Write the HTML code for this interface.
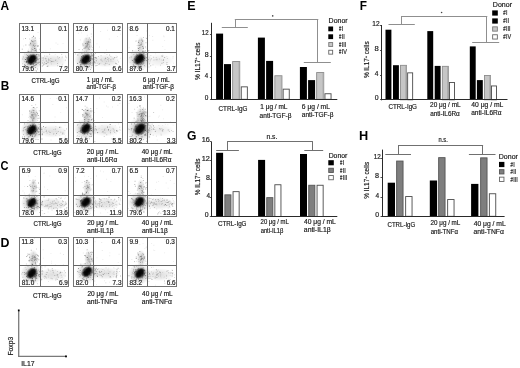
<!DOCTYPE html>
<html><head><meta charset="utf-8"><style>
html,body{margin:0;padding:0;background:#fff;width:520px;height:368px;overflow:hidden}
svg{display:block;font-family:"Liberation Sans",sans-serif;will-change:transform}
text{stroke:#1a1a1a;stroke-width:.18px}
text[font-weight=bold]{stroke:none}
</style></head><body>
<svg width="520" height="368" viewBox="0 0 520 368">
<defs><radialGradient id="core"><stop offset="0" stop-color="#000" stop-opacity="0.95"/><stop offset="0.45" stop-color="#000" stop-opacity="0.85"/><stop offset="0.8" stop-color="#000" stop-opacity="0.3"/><stop offset="1" stop-color="#000" stop-opacity="0"/></radialGradient><radialGradient id="halo"><stop offset="0" stop-color="#000" stop-opacity="0.4"/><stop offset="0.55" stop-color="#000" stop-opacity="0.15"/><stop offset="1" stop-color="#000" stop-opacity="0"/></radialGradient><radialGradient id="trail"><stop offset="0" stop-color="#000" stop-opacity="0.26"/><stop offset="0.6" stop-color="#000" stop-opacity="0.12"/><stop offset="1" stop-color="#000" stop-opacity="0"/></radialGradient><radialGradient id="lr"><stop offset="0" stop-color="#000" stop-opacity="0.13"/><stop offset="0.6" stop-color="#000" stop-opacity="0.07"/><stop offset="1" stop-color="#000" stop-opacity="0"/></radialGradient></defs>
<rect width="520" height="368" fill="#fff"/>
<text transform="translate(0.60,9.50) scale(0.966,1)" font-size="12.36" fill="#000" font-weight="bold">A</text>
<text transform="translate(0.70,89.60) scale(0.955,1)" font-size="12.36" fill="#000" font-weight="bold">B</text>
<text transform="translate(0.51,169.60) scale(0.895,1)" font-size="12.36" fill="#000" font-weight="bold">C</text>
<text transform="translate(0.46,247.20) scale(1.004,1)" font-size="12.36" fill="#000" font-weight="bold">D</text>
<text transform="translate(187.16,9.60) scale(1.011,1)" font-size="12.36" fill="#000" font-weight="bold">E</text>
<text transform="translate(359.80,9.60) scale(0.956,1)" font-size="12.36" fill="#000" font-weight="bold">F</text>
<text transform="translate(186.91,139.70) scale(0.983,1)" font-size="12.36" fill="#000" font-weight="bold">G</text>
<text transform="translate(358.94,139.70) scale(1.033,1)" font-size="12.36" fill="#000" font-weight="bold">H</text>
<ellipse cx="33.4" cy="44.9" rx="4.7" ry="9" fill="url(#trail)" opacity="0.85"/>
<ellipse cx="52.1" cy="60.9" rx="15" ry="6.5" fill="url(#lr)" opacity="1.00"/>
<ellipse cx="31.9" cy="59.9" rx="11.5" ry="10.5" fill="url(#halo)"/>
<g transform="rotate(-40 31.9 59.4)">
<ellipse cx="31.9" cy="59.4" rx="7.0" ry="5.6" fill="url(#core)"/>
<ellipse cx="34.1" cy="58.8" rx="3.6" ry="3.2" fill="url(#core)" opacity="0.8"/>
<ellipse cx="29.5" cy="60.0" rx="3.6" ry="3.2" fill="url(#core)" opacity="0.7"/>
</g>
<path d="M25.8 61.6h.9v.9h-.9zM45.6 63.3h.9v.9h-.9zM26.6 61.0h.9v.9h-.9zM48.4 59.7h.9v.9h-.9zM31.4 61.6h.9v.9h-.9zM35.7 62.1h.9v.9h-.9zM33.3 60.9h.9v.9h-.9zM32.8 63.4h.9v.9h-.9zM33.3 56.2h.9v.9h-.9zM33.1 64.4h.9v.9h-.9zM30.5 58.3h.9v.9h-.9zM32.8 63.4h.9v.9h-.9zM34.9 66.9h.9v.9h-.9zM35.9 70.5h.9v.9h-.9zM30.8 56.5h.9v.9h-.9zM32.8 60.1h.9v.9h-.9zM28.1 55.9h.9v.9h-.9zM37.5 62.5h.9v.9h-.9zM27.6 50.8h.9v.9h-.9zM24.2 63.9h.9v.9h-.9zM21.8 48.7h.9v.9h-.9zM31.2 55.4h.9v.9h-.9zM27.2 57.5h.9v.9h-.9zM35.7 50.3h.9v.9h-.9zM35.7 64.0h.9v.9h-.9zM36.5 54.0h.9v.9h-.9zM33.0 60.4h.9v.9h-.9zM26.9 55.0h.9v.9h-.9zM25.1 59.1h.9v.9h-.9zM25.0 65.0h.9v.9h-.9zM41.8 65.5h.9v.9h-.9zM38.4 54.3h.9v.9h-.9zM31.2 56.8h.9v.9h-.9zM33.0 56.0h.9v.9h-.9zM26.0 62.0h.9v.9h-.9zM30.7 60.0h.9v.9h-.9zM35.5 64.4h.9v.9h-.9zM36.0 54.0h.9v.9h-.9zM30.0 64.1h.9v.9h-.9zM34.7 58.1h.9v.9h-.9zM31.0 59.2h.9v.9h-.9zM26.9 59.4h.9v.9h-.9zM34.2 58.8h.9v.9h-.9zM30.2 58.4h.9v.9h-.9zM31.2 40.2h.9v.9h-.9zM33.1 35.8h.9v.9h-.9zM32.4 48.9h.9v.9h-.9zM34.2 48.0h.9v.9h-.9zM37.7 45.5h.9v.9h-.9zM32.9 44.8h.9v.9h-.9zM34.8 37.5h.9v.9h-.9zM28.5 50.9h.9v.9h-.9zM30.2 43.1h.9v.9h-.9z" fill="#000" fill-opacity="0.4"/>
<path d="M26.1 61.1h.9v.9h-.9zM34.3 65.0h.9v.9h-.9zM39.6 64.4h.9v.9h-.9zM24.8 59.1h.9v.9h-.9zM34.6 69.7h.9v.9h-.9zM34.7 65.2h.9v.9h-.9zM28.0 57.3h.9v.9h-.9zM37.5 58.6h.9v.9h-.9zM22.8 56.6h.9v.9h-.9zM35.8 60.3h.9v.9h-.9zM42.8 51.7h.9v.9h-.9zM38.5 55.5h.9v.9h-.9zM30.0 54.8h.9v.9h-.9zM37.2 68.6h.9v.9h-.9zM30.2 57.3h.9v.9h-.9zM31.4 62.7h.9v.9h-.9zM39.4 48.8h.9v.9h-.9zM39.5 61.8h.9v.9h-.9zM38.6 61.8h.9v.9h-.9zM31.3 64.1h.9v.9h-.9zM35.7 63.6h.9v.9h-.9zM36.0 57.5h.9v.9h-.9zM30.3 51.5h.9v.9h-.9zM45.6 58.4h.9v.9h-.9zM34.9 61.6h.9v.9h-.9zM29.9 67.1h.9v.9h-.9zM22.4 58.6h.9v.9h-.9zM37.9 58.8h.9v.9h-.9zM33.8 65.3h.9v.9h-.9zM26.5 57.8h.9v.9h-.9zM29.3 60.3h.9v.9h-.9zM36.2 50.8h.9v.9h-.9zM30.6 62.6h.9v.9h-.9zM31.3 48.5h.9v.9h-.9zM34.4 47.8h.9v.9h-.9zM34.8 40.3h.9v.9h-.9zM35.4 48.5h.9v.9h-.9zM35.3 45.3h.9v.9h-.9zM28.7 44.6h.9v.9h-.9zM34.0 45.8h.9v.9h-.9zM30.4 44.4h.9v.9h-.9zM34.7 49.9h.9v.9h-.9zM31.4 41.2h.9v.9h-.9zM25.4 44.5h.9v.9h-.9zM33.2 36.2h.9v.9h-.9zM31.8 36.9h.9v.9h-.9zM30.9 50.5h.9v.9h-.9zM32.1 41.0h.9v.9h-.9zM37.4 44.9h.9v.9h-.9zM37.2 45.9h.9v.9h-.9zM25.1 38.1h.9v.9h-.9zM42.2 62.6h.9v.9h-.9zM51.0 60.9h.9v.9h-.9zM60.1 70.4h.9v.9h-.9zM43.0 63.7h.9v.9h-.9zM64.9 59.7h.9v.9h-.9zM51.8 61.2h.9v.9h-.9zM47.2 66.0h.9v.9h-.9zM45.9 60.5h.9v.9h-.9zM49.2 53.8h.9v.9h-.9z" fill="#000" fill-opacity="0.3"/>
<path d="M32.5 57.9h.9v.9h-.9zM28.0 54.7h.9v.9h-.9zM29.0 55.6h.9v.9h-.9zM30.8 56.0h.9v.9h-.9zM24.1 65.1h.9v.9h-.9zM25.9 54.1h.9v.9h-.9zM32.0 57.6h.9v.9h-.9zM30.4 58.1h.9v.9h-.9zM37.5 63.2h.9v.9h-.9zM34.0 57.7h.9v.9h-.9zM39.6 55.3h.9v.9h-.9zM44.3 62.7h.9v.9h-.9zM28.5 57.7h.9v.9h-.9zM31.6 58.2h.9v.9h-.9zM29.8 70.0h.9v.9h-.9zM34.8 61.0h.9v.9h-.9zM29.5 58.8h.9v.9h-.9zM34.9 50.1h.9v.9h-.9zM25.6 57.1h.9v.9h-.9zM27.3 56.8h.9v.9h-.9zM29.5 66.5h.9v.9h-.9zM22.1 63.4h.9v.9h-.9zM27.0 63.9h.9v.9h-.9zM31.4 63.1h.9v.9h-.9zM27.8 56.1h.9v.9h-.9zM39.2 58.1h.9v.9h-.9zM24.1 61.2h.9v.9h-.9zM24.8 61.4h.9v.9h-.9zM40.2 63.1h.9v.9h-.9zM37.6 62.2h.9v.9h-.9zM42.8 57.1h.9v.9h-.9zM35.2 60.3h.9v.9h-.9zM30.2 56.2h.9v.9h-.9zM35.8 49.1h.9v.9h-.9zM34.5 50.7h.9v.9h-.9zM29.2 38.5h.9v.9h-.9zM34.5 43.2h.9v.9h-.9zM39.8 49.6h.9v.9h-.9zM33.6 40.5h.9v.9h-.9zM30.3 42.3h.9v.9h-.9zM61.7 64.6h.9v.9h-.9zM45.2 58.3h.9v.9h-.9zM65.1 56.6h.9v.9h-.9zM57.7 57.7h.9v.9h-.9zM47.3 62.4h.9v.9h-.9zM47.3 61.7h.9v.9h-.9zM61.8 56.5h.9v.9h-.9zM42.4 57.7h.9v.9h-.9zM44.3 55.5h.9v.9h-.9zM47.8 62.2h.9v.9h-.9zM65.3 56.2h.9v.9h-.9zM57.0 65.3h.9v.9h-.9zM48.0 58.6h.9v.9h-.9zM57.2 56.3h.9v.9h-.9zM42.6 59.9h.9v.9h-.9zM43.7 64.1h.9v.9h-.9zM42.9 64.9h.9v.9h-.9zM57.1 63.1h.9v.9h-.9zM53.3 61.2h.9v.9h-.9zM44.1 62.2h.9v.9h-.9zM46.5 55.8h.9v.9h-.9zM47.7 61.6h.9v.9h-.9zM66.2 57.3h.9v.9h-.9zM55.0 60.2h.9v.9h-.9zM55.4 59.4h.9v.9h-.9zM46.5 66.2h.9v.9h-.9zM43.2 58.5h.9v.9h-.9zM59.1 57.1h.9v.9h-.9zM64.4 67.6h.9v.9h-.9zM47.4 65.2h.9v.9h-.9zM50.4 58.1h.9v.9h-.9zM46.1 63.1h.9v.9h-.9zM61.3 54.0h.9v.9h-.9z" fill="#000" fill-opacity="0.2"/>
<path d="M38.0 60.4h.9v.9h-.9zM33.3 63.1h.9v.9h-.9zM41.3 57.6h.9v.9h-.9zM36.9 59.3h.9v.9h-.9zM34.9 66.9h.9v.9h-.9zM29.9 63.3h.9v.9h-.9zM27.7 57.0h.9v.9h-.9zM29.5 54.2h.9v.9h-.9zM28.0 48.7h.9v.9h-.9zM26.0 56.8h.9v.9h-.9zM39.1 63.7h.9v.9h-.9zM35.3 58.2h.9v.9h-.9zM28.7 67.5h.9v.9h-.9zM35.5 63.7h.9v.9h-.9zM33.7 56.9h.9v.9h-.9zM28.8 60.3h.9v.9h-.9zM34.8 56.5h.9v.9h-.9zM27.4 66.9h.9v.9h-.9zM33.1 41.1h.9v.9h-.9zM39.6 38.0h.9v.9h-.9zM32.7 41.9h.9v.9h-.9zM29.8 44.3h.9v.9h-.9zM39.8 44.2h.9v.9h-.9zM31.9 46.7h.9v.9h-.9zM29.7 49.4h.9v.9h-.9zM31.7 49.6h.9v.9h-.9zM33.3 50.0h.9v.9h-.9zM34.3 49.5h.9v.9h-.9zM56.6 60.8h.9v.9h-.9zM50.4 62.4h.9v.9h-.9zM48.6 59.3h.9v.9h-.9zM44.0 57.7h.9v.9h-.9zM63.4 70.2h.9v.9h-.9zM62.4 63.5h.9v.9h-.9zM43.6 61.4h.9v.9h-.9zM58.5 58.6h.9v.9h-.9zM48.3 65.7h.9v.9h-.9zM50.2 59.9h.9v.9h-.9zM61.5 57.5h.9v.9h-.9zM28.5 59.2h.9v.9h-.9zM33.3 25.4h.9v.9h-.9zM45.4 50.4h.9v.9h-.9zM50.4 61.3h.9v.9h-.9zM45.6 60.6h.9v.9h-.9zM24.1 58.2h.9v.9h-.9zM24.2 53.5h.9v.9h-.9zM54.8 54.2h.9v.9h-.9zM30.5 59.5h.9v.9h-.9zM55.6 42.5h.9v.9h-.9zM65.0 55.3h.9v.9h-.9zM45.1 57.5h.9v.9h-.9zM62.6 43.2h.9v.9h-.9zM51.1 63.6h.9v.9h-.9zM58.8 65.2h.9v.9h-.9zM49.9 48.4h.9v.9h-.9zM57.4 43.8h.9v.9h-.9zM27.1 58.4h.9v.9h-.9zM37.6 32.1h.9v.9h-.9zM39.9 37.8h.9v.9h-.9zM23.0 38.6h.9v.9h-.9zM50.2 60.0h.9v.9h-.9zM23.2 45.5h.9v.9h-.9zM62.3 26.1h.9v.9h-.9zM28.8 34.4h.9v.9h-.9z" fill="#000" fill-opacity="0.1"/>
<rect x="19.50" y="23.50" width="49.00" height="49.00" fill="none" stroke="#747474" stroke-width="1"/>
<line x1="40.50" y1="23.40" x2="40.50" y2="72.30" stroke="#666" stroke-width="1"/>
<line x1="19.30" y1="52.50" x2="68.50" y2="52.50" stroke="#666" stroke-width="1"/>
<text transform="translate(21.52,30.90) scale(0.96,1)" font-size="6.69" fill="#1a1a1a">13.1</text>
<text transform="translate(58.18,30.90) scale(0.96,1)" font-size="6.69" fill="#1a1a1a">0.1</text>
<text transform="translate(21.68,71.45) scale(0.96,1)" font-size="6.69" fill="#1a1a1a">79.6</text>
<text transform="translate(58.99,71.45) scale(0.96,1)" font-size="6.69" fill="#1a1a1a">7.2</text>
<text transform="translate(31.49,82.50) scale(0.918,1)" font-size="6.69" fill="#1a1a1a">CTRL-IgG</text>
<ellipse cx="87.3" cy="44.9" rx="5.2" ry="9" fill="url(#trail)" opacity="0.95"/>
<ellipse cx="105.5" cy="60.9" rx="15" ry="6.5" fill="url(#lr)" opacity="1.00"/>
<ellipse cx="85.8" cy="59.9" rx="11.5" ry="10.5" fill="url(#halo)"/>
<g transform="rotate(-40 85.8 59.4)">
<ellipse cx="85.8" cy="59.4" rx="7.0" ry="5.6" fill="url(#core)"/>
<ellipse cx="88.0" cy="58.8" rx="3.6" ry="3.2" fill="url(#core)" opacity="0.8"/>
<ellipse cx="83.4" cy="60.0" rx="3.6" ry="3.2" fill="url(#core)" opacity="0.7"/>
</g>
<path d="M83.4 58.6h.9v.9h-.9zM79.2 61.4h.9v.9h-.9zM81.5 62.1h.9v.9h-.9zM80.6 67.6h.9v.9h-.9zM86.6 58.5h.9v.9h-.9zM79.2 62.1h.9v.9h-.9zM84.0 57.2h.9v.9h-.9zM91.8 64.7h.9v.9h-.9zM93.7 59.2h.9v.9h-.9zM87.6 52.8h.9v.9h-.9zM87.4 59.1h.9v.9h-.9zM88.9 59.5h.9v.9h-.9zM90.5 58.7h.9v.9h-.9zM90.1 58.1h.9v.9h-.9zM81.4 53.1h.9v.9h-.9zM90.4 58.2h.9v.9h-.9zM84.6 61.2h.9v.9h-.9zM87.9 69.2h.9v.9h-.9zM85.3 61.9h.9v.9h-.9zM81.3 59.2h.9v.9h-.9zM80.0 64.0h.9v.9h-.9zM86.3 58.6h.9v.9h-.9zM83.9 64.7h.9v.9h-.9zM92.4 54.8h.9v.9h-.9zM93.9 54.4h.9v.9h-.9zM86.4 66.2h.9v.9h-.9zM83.1 56.3h.9v.9h-.9zM80.9 61.5h.9v.9h-.9zM91.1 55.4h.9v.9h-.9zM83.3 55.7h.9v.9h-.9zM80.0 64.7h.9v.9h-.9zM75.2 53.6h.9v.9h-.9zM84.7 54.8h.9v.9h-.9zM88.3 60.2h.9v.9h-.9zM84.3 52.6h.9v.9h-.9zM82.9 60.0h.9v.9h-.9zM91.3 65.1h.9v.9h-.9zM96.7 62.8h.9v.9h-.9zM95.4 65.7h.9v.9h-.9zM91.6 58.1h.9v.9h-.9zM86.5 57.4h.9v.9h-.9zM81.1 64.5h.9v.9h-.9zM80.2 63.6h.9v.9h-.9zM82.4 45.4h.9v.9h-.9zM86.0 50.7h.9v.9h-.9zM85.8 45.1h.9v.9h-.9zM82.4 49.7h.9v.9h-.9zM87.6 47.7h.9v.9h-.9zM87.2 44.9h.9v.9h-.9zM86.5 47.0h.9v.9h-.9zM89.3 45.6h.9v.9h-.9zM82.8 44.8h.9v.9h-.9zM90.8 33.6h.9v.9h-.9zM88.0 43.9h.9v.9h-.9zM82.0 49.1h.9v.9h-.9zM85.0 45.9h.9v.9h-.9zM89.8 42.1h.9v.9h-.9zM86.8 46.1h.9v.9h-.9zM90.2 40.6h.9v.9h-.9zM89.0 46.5h.9v.9h-.9zM89.3 51.9h.9v.9h-.9zM91.0 45.7h.9v.9h-.9zM91.6 49.6h.9v.9h-.9zM87.7 49.1h.9v.9h-.9zM91.8 46.9h.9v.9h-.9zM88.8 43.7h.9v.9h-.9zM84.5 47.3h.9v.9h-.9zM95.1 62.4h.9v.9h-.9zM118.0 61.5h.9v.9h-.9zM100.5 59.4h.9v.9h-.9zM98.6 64.0h.9v.9h-.9zM96.9 64.9h.9v.9h-.9zM105.3 63.1h.9v.9h-.9zM108.7 64.2h.9v.9h-.9zM107.2 57.0h.9v.9h-.9zM106.5 53.9h.9v.9h-.9zM114.2 57.0h.9v.9h-.9zM108.4 58.1h.9v.9h-.9zM100.6 55.3h.9v.9h-.9zM110.5 60.6h.9v.9h-.9zM115.8 63.5h.9v.9h-.9zM110.4 55.9h.9v.9h-.9zM101.8 60.7h.9v.9h-.9zM108.2 60.6h.9v.9h-.9zM99.1 63.0h.9v.9h-.9zM104.5 64.6h.9v.9h-.9zM100.9 59.7h.9v.9h-.9zM115.7 57.1h.9v.9h-.9zM115.0 62.8h.9v.9h-.9zM97.9 56.1h.9v.9h-.9z" fill="#000" fill-opacity="0.2"/>
<path d="M89.5 60.1h.9v.9h-.9zM78.6 48.9h.9v.9h-.9zM87.4 61.3h.9v.9h-.9zM89.5 63.7h.9v.9h-.9zM81.4 63.5h.9v.9h-.9zM87.8 64.2h.9v.9h-.9zM84.7 61.4h.9v.9h-.9zM85.2 59.1h.9v.9h-.9zM86.0 60.9h.9v.9h-.9zM82.6 58.8h.9v.9h-.9zM83.9 65.6h.9v.9h-.9zM82.2 57.4h.9v.9h-.9zM83.4 60.1h.9v.9h-.9zM86.4 66.5h.9v.9h-.9zM90.1 56.3h.9v.9h-.9zM88.4 54.4h.9v.9h-.9zM87.7 66.6h.9v.9h-.9zM89.9 56.4h.9v.9h-.9zM86.3 63.0h.9v.9h-.9zM90.8 67.4h.9v.9h-.9zM93.2 61.3h.9v.9h-.9zM89.1 61.0h.9v.9h-.9zM81.4 56.6h.9v.9h-.9zM92.8 64.8h.9v.9h-.9zM85.2 58.5h.9v.9h-.9zM87.9 60.0h.9v.9h-.9zM87.0 52.0h.9v.9h-.9zM93.4 62.4h.9v.9h-.9zM93.5 57.3h.9v.9h-.9zM86.0 46.2h.9v.9h-.9zM85.7 38.4h.9v.9h-.9zM87.7 41.3h.9v.9h-.9zM90.0 39.2h.9v.9h-.9zM88.9 49.1h.9v.9h-.9zM87.9 41.0h.9v.9h-.9zM89.2 41.5h.9v.9h-.9zM88.9 37.6h.9v.9h-.9zM86.5 41.5h.9v.9h-.9zM85.3 47.6h.9v.9h-.9zM82.3 43.5h.9v.9h-.9zM88.5 39.5h.9v.9h-.9zM88.1 41.0h.9v.9h-.9zM88.2 47.7h.9v.9h-.9zM87.8 42.3h.9v.9h-.9zM86.9 44.4h.9v.9h-.9zM119.0 65.6h.9v.9h-.9zM109.2 54.6h.9v.9h-.9zM115.7 62.9h.9v.9h-.9zM107.5 59.2h.9v.9h-.9zM112.8 58.6h.9v.9h-.9zM116.7 56.4h.9v.9h-.9zM95.9 60.3h.9v.9h-.9zM113.9 57.4h.9v.9h-.9zM110.4 58.9h.9v.9h-.9zM94.9 53.2h.9v.9h-.9zM105.2 58.0h.9v.9h-.9z" fill="#000" fill-opacity="0.3"/>
<path d="M82.1 60.2h.9v.9h-.9zM81.1 56.2h.9v.9h-.9zM82.7 55.5h.9v.9h-.9zM92.8 63.8h.9v.9h-.9zM77.1 63.1h.9v.9h-.9zM89.1 65.8h.9v.9h-.9zM94.1 61.6h.9v.9h-.9zM83.6 48.2h.9v.9h-.9zM82.2 59.3h.9v.9h-.9zM82.5 59.4h.9v.9h-.9zM90.0 61.9h.9v.9h-.9zM90.8 53.3h.9v.9h-.9zM86.3 55.9h.9v.9h-.9zM83.9 51.8h.9v.9h-.9zM85.3 57.8h.9v.9h-.9zM85.8 65.4h.9v.9h-.9zM85.3 61.5h.9v.9h-.9zM95.9 57.6h.9v.9h-.9zM79.6 61.6h.9v.9h-.9zM82.1 60.2h.9v.9h-.9zM91.6 62.7h.9v.9h-.9zM92.0 58.7h.9v.9h-.9zM82.5 54.9h.9v.9h-.9zM80.4 60.0h.9v.9h-.9zM77.4 54.5h.9v.9h-.9zM83.3 58.4h.9v.9h-.9zM90.1 60.1h.9v.9h-.9zM87.7 66.6h.9v.9h-.9zM90.1 59.8h.9v.9h-.9zM90.0 68.9h.9v.9h-.9zM88.6 61.0h.9v.9h-.9zM86.2 58.0h.9v.9h-.9zM85.0 57.0h.9v.9h-.9zM94.8 57.1h.9v.9h-.9zM79.9 64.6h.9v.9h-.9zM85.5 59.1h.9v.9h-.9zM89.5 63.1h.9v.9h-.9zM89.8 63.7h.9v.9h-.9zM95.6 64.9h.9v.9h-.9zM91.6 55.6h.9v.9h-.9zM91.5 54.5h.9v.9h-.9zM85.2 57.7h.9v.9h-.9zM85.2 43.0h.9v.9h-.9zM87.0 43.3h.9v.9h-.9z" fill="#000" fill-opacity="0.4"/>
<path d="M85.4 58.0h.9v.9h-.9zM85.6 64.5h.9v.9h-.9zM82.7 60.8h.9v.9h-.9zM83.0 57.8h.9v.9h-.9zM77.4 62.5h.9v.9h-.9zM92.3 62.2h.9v.9h-.9zM78.6 52.9h.9v.9h-.9zM85.3 56.6h.9v.9h-.9zM84.8 63.2h.9v.9h-.9zM81.0 58.4h.9v.9h-.9zM79.3 66.5h.9v.9h-.9zM90.9 48.9h.9v.9h-.9zM85.7 63.3h.9v.9h-.9zM96.7 58.8h.9v.9h-.9zM90.5 39.8h.9v.9h-.9zM84.8 47.1h.9v.9h-.9zM90.0 46.7h.9v.9h-.9zM88.4 47.7h.9v.9h-.9zM86.3 43.3h.9v.9h-.9zM88.0 42.3h.9v.9h-.9zM85.8 42.9h.9v.9h-.9zM109.0 63.8h.9v.9h-.9zM104.5 59.3h.9v.9h-.9zM104.3 58.5h.9v.9h-.9zM106.7 63.0h.9v.9h-.9zM95.1 57.8h.9v.9h-.9zM104.9 62.5h.9v.9h-.9zM101.0 58.4h.9v.9h-.9zM103.4 63.9h.9v.9h-.9zM111.6 57.6h.9v.9h-.9zM105.1 56.9h.9v.9h-.9zM95.5 58.0h.9v.9h-.9zM98.3 63.5h.9v.9h-.9zM100.3 59.3h.9v.9h-.9zM117.2 59.8h.9v.9h-.9zM115.6 55.4h.9v.9h-.9zM97.7 61.6h.9v.9h-.9zM112.5 60.9h.9v.9h-.9zM106.1 61.0h.9v.9h-.9zM100.4 62.8h.9v.9h-.9zM119.8 57.8h.9v.9h-.9zM107.0 29.8h.9v.9h-.9zM87.4 58.0h.9v.9h-.9zM79.8 39.5h.9v.9h-.9zM99.1 46.6h.9v.9h-.9zM88.5 61.1h.9v.9h-.9zM87.3 42.4h.9v.9h-.9zM109.4 69.4h.9v.9h-.9zM106.1 49.5h.9v.9h-.9zM81.0 32.4h.9v.9h-.9zM117.1 35.9h.9v.9h-.9zM79.8 39.3h.9v.9h-.9zM100.2 31.0h.9v.9h-.9zM86.8 34.8h.9v.9h-.9zM91.1 36.3h.9v.9h-.9zM77.2 65.4h.9v.9h-.9zM77.9 32.8h.9v.9h-.9zM120.0 33.7h.9v.9h-.9zM96.5 43.4h.9v.9h-.9zM92.4 27.0h.9v.9h-.9zM104.4 53.0h.9v.9h-.9zM117.3 64.1h.9v.9h-.9zM94.6 62.7h.9v.9h-.9zM82.4 25.6h.9v.9h-.9zM79.7 27.8h.9v.9h-.9zM108.8 38.6h.9v.9h-.9z" fill="#000" fill-opacity="0.1"/>
<rect x="73.50" y="23.50" width="49.00" height="49.00" fill="none" stroke="#747474" stroke-width="1"/>
<line x1="93.50" y1="23.40" x2="93.50" y2="72.30" stroke="#666" stroke-width="1"/>
<line x1="73.30" y1="52.50" x2="122.10" y2="52.50" stroke="#666" stroke-width="1"/>
<text transform="translate(75.52,30.90) scale(0.96,1)" font-size="6.69" fill="#1a1a1a">12.6</text>
<text transform="translate(111.79,30.90) scale(0.96,1)" font-size="6.69" fill="#1a1a1a">0.2</text>
<text transform="translate(75.73,71.45) scale(0.96,1)" font-size="6.69" fill="#1a1a1a">80.7</text>
<text transform="translate(112.54,71.45) scale(0.96,1)" font-size="6.69" fill="#1a1a1a">6.6</text>
<text transform="translate(86.72,81.70) scale(0.963,1)" font-size="6.69" fill="#1a1a1a">1 μg / mL</text>
<text transform="translate(86.54,89.40) scale(0.909,1)" font-size="6.69" fill="#1a1a1a">anti-TGF-β</text>
<ellipse cx="141.0" cy="44.9" rx="4.2" ry="9" fill="url(#trail)" opacity="0.76"/>
<ellipse cx="159.4" cy="60.5" rx="15" ry="6.5" fill="url(#lr)" opacity="0.60"/>
<ellipse cx="139.5" cy="59.5" rx="12.1" ry="11.0" fill="url(#halo)"/>
<g transform="rotate(-40 139.5 59.0)">
<ellipse cx="139.5" cy="59.0" rx="7.4" ry="5.9" fill="url(#core)"/>
<ellipse cx="141.8" cy="58.4" rx="3.8" ry="3.4" fill="url(#core)" opacity="0.8"/>
<ellipse cx="137.0" cy="59.6" rx="3.8" ry="3.4" fill="url(#core)" opacity="0.7"/>
</g>
<path d="M143.1 59.7h.9v.9h-.9zM145.9 59.9h.9v.9h-.9zM142.7 50.9h.9v.9h-.9zM141.9 59.3h.9v.9h-.9zM139.6 57.2h.9v.9h-.9zM141.3 57.6h.9v.9h-.9zM135.7 59.7h.9v.9h-.9zM132.2 50.3h.9v.9h-.9zM141.4 54.0h.9v.9h-.9zM140.0 68.2h.9v.9h-.9zM140.4 53.5h.9v.9h-.9zM141.7 63.9h.9v.9h-.9zM135.8 55.8h.9v.9h-.9zM142.5 56.7h.9v.9h-.9zM136.9 54.7h.9v.9h-.9zM138.4 64.6h.9v.9h-.9zM134.2 67.0h.9v.9h-.9zM133.3 68.1h.9v.9h-.9zM136.1 53.7h.9v.9h-.9zM142.8 63.3h.9v.9h-.9zM142.7 52.2h.9v.9h-.9zM147.5 50.5h.9v.9h-.9zM137.0 59.0h.9v.9h-.9zM135.1 59.2h.9v.9h-.9zM141.3 57.2h.9v.9h-.9zM142.5 59.7h.9v.9h-.9zM131.9 60.0h.9v.9h-.9zM135.7 59.9h.9v.9h-.9zM141.1 54.6h.9v.9h-.9zM138.5 40.4h.9v.9h-.9zM140.6 44.1h.9v.9h-.9zM142.3 46.0h.9v.9h-.9zM142.8 47.8h.9v.9h-.9zM138.0 48.1h.9v.9h-.9zM138.0 50.1h.9v.9h-.9zM138.2 42.0h.9v.9h-.9zM142.9 47.5h.9v.9h-.9z" fill="#000" fill-opacity="0.4"/>
<path d="M141.7 51.9h.9v.9h-.9zM132.8 63.9h.9v.9h-.9zM140.2 64.2h.9v.9h-.9zM134.2 52.2h.9v.9h-.9zM136.3 56.1h.9v.9h-.9zM135.1 66.3h.9v.9h-.9zM140.6 61.6h.9v.9h-.9zM134.2 59.4h.9v.9h-.9zM142.5 69.1h.9v.9h-.9zM143.9 58.1h.9v.9h-.9zM144.0 65.0h.9v.9h-.9zM136.7 55.2h.9v.9h-.9zM148.1 59.1h.9v.9h-.9zM138.2 45.0h.9v.9h-.9zM129.3 57.3h.9v.9h-.9zM140.4 56.8h.9v.9h-.9zM140.7 60.3h.9v.9h-.9zM145.5 54.0h.9v.9h-.9zM146.2 57.1h.9v.9h-.9zM136.4 52.1h.9v.9h-.9zM137.5 64.1h.9v.9h-.9zM140.1 65.8h.9v.9h-.9zM137.7 60.1h.9v.9h-.9zM142.7 57.3h.9v.9h-.9zM141.3 58.2h.9v.9h-.9zM135.7 63.6h.9v.9h-.9zM155.8 57.3h.9v.9h-.9zM133.3 63.6h.9v.9h-.9zM143.1 59.3h.9v.9h-.9zM133.3 53.9h.9v.9h-.9zM148.4 50.1h.9v.9h-.9zM138.7 51.9h.9v.9h-.9zM137.7 60.5h.9v.9h-.9zM148.5 66.5h.9v.9h-.9zM143.8 56.8h.9v.9h-.9zM139.2 55.8h.9v.9h-.9zM134.1 61.9h.9v.9h-.9zM134.4 58.1h.9v.9h-.9zM143.6 62.2h.9v.9h-.9zM138.8 59.6h.9v.9h-.9zM142.8 61.5h.9v.9h-.9zM142.2 41.0h.9v.9h-.9zM138.8 48.7h.9v.9h-.9zM135.1 40.7h.9v.9h-.9zM140.3 45.1h.9v.9h-.9zM136.7 45.2h.9v.9h-.9zM142.9 50.6h.9v.9h-.9zM140.0 47.4h.9v.9h-.9zM138.2 41.6h.9v.9h-.9zM136.2 40.6h.9v.9h-.9zM139.0 51.7h.9v.9h-.9zM147.1 43.2h.9v.9h-.9zM145.0 49.9h.9v.9h-.9zM166.9 58.2h.9v.9h-.9zM152.5 64.4h.9v.9h-.9zM162.4 54.7h.9v.9h-.9zM160.1 64.7h.9v.9h-.9zM167.2 63.9h.9v.9h-.9zM172.9 66.4h.9v.9h-.9zM166.1 63.8h.9v.9h-.9zM150.4 55.2h.9v.9h-.9zM153.2 56.8h.9v.9h-.9zM153.5 59.5h.9v.9h-.9zM159.2 58.6h.9v.9h-.9zM162.9 62.0h.9v.9h-.9zM161.0 55.5h.9v.9h-.9z" fill="#000" fill-opacity="0.2"/>
<path d="M140.5 58.9h.9v.9h-.9zM139.2 53.4h.9v.9h-.9zM140.5 64.4h.9v.9h-.9zM141.3 63.0h.9v.9h-.9zM137.3 56.9h.9v.9h-.9zM147.4 53.3h.9v.9h-.9zM143.7 53.2h.9v.9h-.9zM140.4 66.0h.9v.9h-.9zM138.2 59.4h.9v.9h-.9zM132.8 61.6h.9v.9h-.9zM142.2 58.3h.9v.9h-.9zM149.2 63.4h.9v.9h-.9zM139.5 68.3h.9v.9h-.9zM130.8 56.6h.9v.9h-.9zM143.1 59.2h.9v.9h-.9zM137.1 63.1h.9v.9h-.9zM138.2 66.0h.9v.9h-.9zM140.7 61.8h.9v.9h-.9zM134.6 62.4h.9v.9h-.9zM144.0 57.9h.9v.9h-.9zM132.9 64.7h.9v.9h-.9zM137.3 66.7h.9v.9h-.9zM133.6 65.0h.9v.9h-.9zM146.9 60.5h.9v.9h-.9zM143.1 53.3h.9v.9h-.9zM141.4 59.5h.9v.9h-.9zM142.2 61.0h.9v.9h-.9zM144.3 60.2h.9v.9h-.9zM140.7 64.7h.9v.9h-.9zM134.2 58.7h.9v.9h-.9zM145.9 57.4h.9v.9h-.9zM140.5 58.0h.9v.9h-.9zM140.1 59.4h.9v.9h-.9zM144.4 58.4h.9v.9h-.9zM136.5 62.5h.9v.9h-.9zM135.6 57.3h.9v.9h-.9zM139.1 47.3h.9v.9h-.9zM143.1 36.9h.9v.9h-.9zM140.8 39.7h.9v.9h-.9zM141.6 39.6h.9v.9h-.9zM142.8 47.9h.9v.9h-.9zM141.2 42.6h.9v.9h-.9zM142.2 40.6h.9v.9h-.9zM137.5 47.7h.9v.9h-.9zM139.0 45.2h.9v.9h-.9zM145.2 46.6h.9v.9h-.9zM145.5 42.3h.9v.9h-.9zM142.1 50.8h.9v.9h-.9zM144.5 50.8h.9v.9h-.9zM146.1 38.2h.9v.9h-.9zM161.5 62.8h.9v.9h-.9zM162.2 55.8h.9v.9h-.9zM150.3 65.3h.9v.9h-.9zM151.0 58.4h.9v.9h-.9zM156.4 59.3h.9v.9h-.9zM163.1 58.9h.9v.9h-.9zM162.8 60.1h.9v.9h-.9zM166.5 62.2h.9v.9h-.9zM173.6 67.6h.9v.9h-.9zM164.2 57.1h.9v.9h-.9z" fill="#000" fill-opacity="0.3"/>
<path d="M143.3 57.1h.9v.9h-.9zM136.2 63.6h.9v.9h-.9zM132.7 59.3h.9v.9h-.9zM138.1 66.3h.9v.9h-.9zM146.1 52.6h.9v.9h-.9zM131.1 52.5h.9v.9h-.9zM136.8 55.0h.9v.9h-.9zM136.8 60.0h.9v.9h-.9zM139.7 64.5h.9v.9h-.9zM133.9 56.2h.9v.9h-.9zM143.8 63.2h.9v.9h-.9zM137.5 64.9h.9v.9h-.9zM137.0 58.4h.9v.9h-.9zM139.6 64.5h.9v.9h-.9zM129.6 61.9h.9v.9h-.9zM138.3 59.3h.9v.9h-.9zM133.2 52.2h.9v.9h-.9zM134.3 61.7h.9v.9h-.9zM130.8 58.7h.9v.9h-.9zM145.5 47.9h.9v.9h-.9zM141.1 38.3h.9v.9h-.9zM147.2 43.8h.9v.9h-.9zM139.2 39.5h.9v.9h-.9zM139.1 43.2h.9v.9h-.9zM138.6 43.5h.9v.9h-.9zM155.2 66.7h.9v.9h-.9zM148.9 57.4h.9v.9h-.9zM154.9 59.4h.9v.9h-.9zM160.9 59.6h.9v.9h-.9zM155.1 53.4h.9v.9h-.9zM172.6 56.0h.9v.9h-.9zM157.4 58.6h.9v.9h-.9zM150.0 59.3h.9v.9h-.9zM172.5 57.5h.9v.9h-.9zM129.6 29.5h.9v.9h-.9zM172.2 25.5h.9v.9h-.9zM166.4 56.0h.9v.9h-.9zM154.8 59.2h.9v.9h-.9zM128.1 27.5h.9v.9h-.9zM173.1 62.7h.9v.9h-.9zM143.6 40.3h.9v.9h-.9zM163.6 36.4h.9v.9h-.9zM152.4 39.8h.9v.9h-.9zM149.1 35.2h.9v.9h-.9zM136.2 31.3h.9v.9h-.9zM150.2 60.4h.9v.9h-.9zM139.1 54.4h.9v.9h-.9zM152.2 36.1h.9v.9h-.9zM136.6 35.1h.9v.9h-.9zM143.3 57.7h.9v.9h-.9zM164.5 49.2h.9v.9h-.9zM163.3 35.6h.9v.9h-.9zM147.2 69.8h.9v.9h-.9zM144.5 66.2h.9v.9h-.9zM145.9 30.6h.9v.9h-.9zM164.2 39.9h.9v.9h-.9zM145.6 37.6h.9v.9h-.9zM162.3 46.2h.9v.9h-.9zM128.7 47.3h.9v.9h-.9z" fill="#000" fill-opacity="0.1"/>
<rect x="127.50" y="23.50" width="49.00" height="49.00" fill="none" stroke="#747474" stroke-width="1"/>
<line x1="147.50" y1="23.40" x2="147.50" y2="72.30" stroke="#666" stroke-width="1"/>
<line x1="127.10" y1="52.50" x2="176.20" y2="52.50" stroke="#666" stroke-width="1"/>
<text transform="translate(129.53,30.90) scale(0.96,1)" font-size="6.69" fill="#1a1a1a">8.6</text>
<text transform="translate(165.88,30.90) scale(0.96,1)" font-size="6.69" fill="#1a1a1a">0.1</text>
<text transform="translate(129.53,71.45) scale(0.96,1)" font-size="6.69" fill="#1a1a1a">87.6</text>
<text transform="translate(166.69,71.45) scale(0.96,1)" font-size="6.69" fill="#1a1a1a">3.7</text>
<text transform="translate(142.68,81.70) scale(0.965,1)" font-size="6.69" fill="#1a1a1a">6 μg / mL</text>
<text transform="translate(142.73,89.40) scale(0.965,1)" font-size="6.69" fill="#1a1a1a">anti-TGF-β</text>
<ellipse cx="33.4" cy="115.7" rx="5.2" ry="9" fill="url(#trail)" opacity="0.95"/>
<ellipse cx="52.1" cy="131.3" rx="15" ry="6.5" fill="url(#lr)" opacity="0.90"/>
<ellipse cx="31.9" cy="130.3" rx="11.5" ry="10.5" fill="url(#halo)"/>
<g transform="rotate(-40 31.9 129.8)">
<ellipse cx="31.9" cy="129.8" rx="7.0" ry="5.6" fill="url(#core)"/>
<ellipse cx="34.1" cy="129.2" rx="3.6" ry="3.2" fill="url(#core)" opacity="0.8"/>
<ellipse cx="29.5" cy="130.4" rx="3.6" ry="3.2" fill="url(#core)" opacity="0.7"/>
</g>
<path d="M30.4 139.7h.9v.9h-.9zM39.8 127.6h.9v.9h-.9zM30.9 133.2h.9v.9h-.9zM27.1 138.0h.9v.9h-.9zM33.2 132.9h.9v.9h-.9zM40.7 127.3h.9v.9h-.9zM32.3 129.9h.9v.9h-.9zM38.8 124.0h.9v.9h-.9zM35.0 125.3h.9v.9h-.9zM34.9 130.9h.9v.9h-.9zM41.2 128.6h.9v.9h-.9zM23.1 134.1h.9v.9h-.9zM35.0 134.6h.9v.9h-.9zM24.8 126.3h.9v.9h-.9zM33.4 136.5h.9v.9h-.9zM29.6 133.2h.9v.9h-.9zM34.8 133.9h.9v.9h-.9zM27.4 122.6h.9v.9h-.9zM35.9 127.7h.9v.9h-.9zM29.6 124.2h.9v.9h-.9zM38.5 123.5h.9v.9h-.9zM36.2 127.8h.9v.9h-.9zM29.5 135.5h.9v.9h-.9zM38.5 128.6h.9v.9h-.9zM32.0 135.6h.9v.9h-.9zM27.3 132.0h.9v.9h-.9zM37.5 118.0h.9v.9h-.9zM36.0 115.4h.9v.9h-.9zM31.0 116.8h.9v.9h-.9zM35.2 104.3h.9v.9h-.9zM37.2 120.2h.9v.9h-.9zM35.6 114.3h.9v.9h-.9zM31.5 118.2h.9v.9h-.9zM35.4 114.2h.9v.9h-.9zM31.1 114.1h.9v.9h-.9zM36.9 113.3h.9v.9h-.9zM35.0 115.6h.9v.9h-.9zM30.5 110.5h.9v.9h-.9zM32.4 115.9h.9v.9h-.9zM34.4 112.7h.9v.9h-.9zM29.5 112.7h.9v.9h-.9zM33.1 116.7h.9v.9h-.9zM33.3 118.5h.9v.9h-.9zM32.3 110.2h.9v.9h-.9zM46.6 132.5h.9v.9h-.9zM54.9 128.4h.9v.9h-.9zM57.8 131.1h.9v.9h-.9zM61.8 133.8h.9v.9h-.9zM62.1 132.8h.9v.9h-.9zM64.4 130.3h.9v.9h-.9zM62.6 133.2h.9v.9h-.9zM66.0 128.4h.9v.9h-.9zM59.3 126.5h.9v.9h-.9zM42.6 127.4h.9v.9h-.9zM45.7 126.7h.9v.9h-.9zM53.0 133.5h.9v.9h-.9zM60.4 126.8h.9v.9h-.9zM62.6 131.8h.9v.9h-.9zM54.7 129.2h.9v.9h-.9zM44.9 127.0h.9v.9h-.9zM63.6 133.8h.9v.9h-.9zM44.5 128.6h.9v.9h-.9zM48.5 130.8h.9v.9h-.9z" fill="#000" fill-opacity="0.2"/>
<path d="M36.3 132.9h.9v.9h-.9zM41.8 134.1h.9v.9h-.9zM30.0 134.9h.9v.9h-.9zM34.4 135.8h.9v.9h-.9zM30.9 130.7h.9v.9h-.9zM33.6 127.5h.9v.9h-.9zM31.8 126.8h.9v.9h-.9zM41.5 138.6h.9v.9h-.9zM28.1 133.2h.9v.9h-.9zM37.0 129.6h.9v.9h-.9zM32.4 123.8h.9v.9h-.9zM37.2 131.3h.9v.9h-.9zM28.4 131.3h.9v.9h-.9zM34.7 134.5h.9v.9h-.9zM24.1 136.4h.9v.9h-.9zM28.1 128.3h.9v.9h-.9zM43.1 126.1h.9v.9h-.9zM31.6 122.5h.9v.9h-.9zM30.5 140.4h.9v.9h-.9zM37.6 138.9h.9v.9h-.9zM38.6 134.2h.9v.9h-.9zM30.3 133.5h.9v.9h-.9zM29.7 121.7h.9v.9h-.9zM35.4 129.1h.9v.9h-.9zM32.0 125.2h.9v.9h-.9zM24.1 123.4h.9v.9h-.9zM22.8 130.3h.9v.9h-.9zM38.1 127.4h.9v.9h-.9zM32.9 129.3h.9v.9h-.9zM26.6 134.4h.9v.9h-.9zM29.1 126.9h.9v.9h-.9zM33.6 123.3h.9v.9h-.9zM27.0 130.1h.9v.9h-.9zM34.8 131.0h.9v.9h-.9zM29.6 133.3h.9v.9h-.9zM31.8 136.0h.9v.9h-.9zM27.6 128.5h.9v.9h-.9zM30.1 125.0h.9v.9h-.9zM28.5 136.3h.9v.9h-.9zM36.3 111.9h.9v.9h-.9zM31.9 114.3h.9v.9h-.9zM32.8 107.2h.9v.9h-.9zM31.9 114.8h.9v.9h-.9zM37.8 115.1h.9v.9h-.9zM32.4 120.2h.9v.9h-.9zM33.3 107.1h.9v.9h-.9zM29.1 110.6h.9v.9h-.9zM38.6 117.7h.9v.9h-.9z" fill="#000" fill-opacity="0.4"/>
<path d="M38.1 131.2h.9v.9h-.9zM34.9 124.6h.9v.9h-.9zM30.2 135.3h.9v.9h-.9zM28.5 131.9h.9v.9h-.9zM33.1 124.4h.9v.9h-.9zM40.0 125.3h.9v.9h-.9zM30.6 128.7h.9v.9h-.9zM27.6 119.9h.9v.9h-.9zM32.1 130.1h.9v.9h-.9zM32.1 129.6h.9v.9h-.9zM38.4 128.4h.9v.9h-.9zM28.2 125.5h.9v.9h-.9zM31.8 135.3h.9v.9h-.9zM30.0 128.1h.9v.9h-.9zM24.9 129.3h.9v.9h-.9zM40.9 129.2h.9v.9h-.9zM34.9 131.0h.9v.9h-.9zM35.5 132.4h.9v.9h-.9zM22.0 136.5h.9v.9h-.9zM39.5 125.8h.9v.9h-.9zM31.5 132.8h.9v.9h-.9zM23.2 128.4h.9v.9h-.9zM30.6 130.3h.9v.9h-.9zM36.3 134.4h.9v.9h-.9zM29.6 127.5h.9v.9h-.9zM33.9 132.6h.9v.9h-.9zM31.3 127.2h.9v.9h-.9zM31.3 132.8h.9v.9h-.9zM39.8 127.0h.9v.9h-.9zM39.6 128.9h.9v.9h-.9zM30.8 129.4h.9v.9h-.9zM39.5 133.7h.9v.9h-.9zM35.7 130.1h.9v.9h-.9zM35.5 138.9h.9v.9h-.9zM38.1 132.2h.9v.9h-.9zM24.3 127.0h.9v.9h-.9zM38.3 127.7h.9v.9h-.9zM40.0 121.0h.9v.9h-.9zM39.4 131.3h.9v.9h-.9zM27.7 136.7h.9v.9h-.9zM34.3 132.7h.9v.9h-.9zM23.7 127.2h.9v.9h-.9zM29.4 127.5h.9v.9h-.9zM27.0 126.3h.9v.9h-.9zM37.2 113.3h.9v.9h-.9zM31.2 115.3h.9v.9h-.9zM32.8 117.9h.9v.9h-.9zM36.5 107.2h.9v.9h-.9zM30.1 116.5h.9v.9h-.9zM33.7 117.5h.9v.9h-.9zM32.2 118.9h.9v.9h-.9zM30.8 111.7h.9v.9h-.9zM38.8 110.4h.9v.9h-.9zM33.4 110.1h.9v.9h-.9zM31.8 122.1h.9v.9h-.9zM32.5 121.9h.9v.9h-.9zM32.8 112.0h.9v.9h-.9zM33.5 114.2h.9v.9h-.9zM32.4 120.7h.9v.9h-.9zM31.4 105.2h.9v.9h-.9zM49.6 132.1h.9v.9h-.9zM60.4 131.7h.9v.9h-.9zM41.9 132.9h.9v.9h-.9zM56.1 133.1h.9v.9h-.9zM45.9 130.6h.9v.9h-.9zM59.1 127.0h.9v.9h-.9z" fill="#000" fill-opacity="0.3"/>
<path d="M26.5 126.0h.9v.9h-.9zM33.3 128.7h.9v.9h-.9zM43.6 132.0h.9v.9h-.9zM36.1 129.3h.9v.9h-.9zM25.8 133.1h.9v.9h-.9zM32.9 130.0h.9v.9h-.9zM27.3 134.2h.9v.9h-.9zM38.5 133.9h.9v.9h-.9zM32.7 129.4h.9v.9h-.9zM40.1 130.7h.9v.9h-.9zM29.4 127.1h.9v.9h-.9zM35.2 130.5h.9v.9h-.9zM35.4 131.5h.9v.9h-.9zM26.8 127.6h.9v.9h-.9zM25.6 129.7h.9v.9h-.9zM29.4 129.5h.9v.9h-.9zM32.1 126.3h.9v.9h-.9zM25.7 126.3h.9v.9h-.9zM33.2 110.6h.9v.9h-.9zM31.0 111.8h.9v.9h-.9zM36.1 110.5h.9v.9h-.9zM38.7 115.7h.9v.9h-.9zM28.2 116.9h.9v.9h-.9zM32.0 116.8h.9v.9h-.9zM32.5 109.3h.9v.9h-.9zM34.1 107.6h.9v.9h-.9zM33.9 112.4h.9v.9h-.9zM41.6 134.7h.9v.9h-.9zM55.3 134.8h.9v.9h-.9zM44.7 131.1h.9v.9h-.9zM49.3 134.2h.9v.9h-.9zM64.9 135.4h.9v.9h-.9zM55.4 126.0h.9v.9h-.9zM59.3 135.2h.9v.9h-.9zM53.7 133.3h.9v.9h-.9zM42.8 131.8h.9v.9h-.9zM42.3 131.0h.9v.9h-.9zM66.1 128.6h.9v.9h-.9zM55.5 130.8h.9v.9h-.9zM41.9 129.4h.9v.9h-.9zM42.4 131.7h.9v.9h-.9zM42.1 129.0h.9v.9h-.9zM63.4 129.7h.9v.9h-.9zM64.4 132.5h.9v.9h-.9zM46.0 131.2h.9v.9h-.9zM46.2 129.5h.9v.9h-.9zM53.1 129.1h.9v.9h-.9zM56.7 131.9h.9v.9h-.9zM42.1 134.7h.9v.9h-.9zM64.6 124.7h.9v.9h-.9zM38.5 134.6h.9v.9h-.9zM25.5 140.5h.9v.9h-.9zM60.3 111.9h.9v.9h-.9zM64.6 136.7h.9v.9h-.9zM61.4 141.4h.9v.9h-.9zM50.6 139.6h.9v.9h-.9zM39.0 121.3h.9v.9h-.9zM56.4 98.1h.9v.9h-.9zM33.2 110.1h.9v.9h-.9zM29.1 115.9h.9v.9h-.9zM65.9 107.3h.9v.9h-.9zM52.4 104.0h.9v.9h-.9zM29.5 120.9h.9v.9h-.9zM20.4 95.2h.9v.9h-.9zM35.5 107.9h.9v.9h-.9zM49.8 98.2h.9v.9h-.9zM31.0 117.4h.9v.9h-.9zM59.9 138.4h.9v.9h-.9zM35.0 113.6h.9v.9h-.9zM54.6 116.6h.9v.9h-.9zM27.3 131.4h.9v.9h-.9zM29.7 123.7h.9v.9h-.9zM21.9 114.3h.9v.9h-.9zM54.1 121.6h.9v.9h-.9zM65.0 97.9h.9v.9h-.9z" fill="#000" fill-opacity="0.1"/>
<rect x="19.50" y="94.50" width="49.00" height="49.00" fill="none" stroke="#747474" stroke-width="1"/>
<line x1="40.50" y1="94.20" x2="40.50" y2="143.40" stroke="#666" stroke-width="1"/>
<line x1="19.30" y1="122.50" x2="68.50" y2="122.50" stroke="#666" stroke-width="1"/>
<text transform="translate(21.52,100.95) scale(0.96,1)" font-size="6.69" fill="#1a1a1a">14.6</text>
<text transform="translate(58.18,100.95) scale(0.96,1)" font-size="6.69" fill="#1a1a1a">0.1</text>
<text transform="translate(21.68,142.55) scale(0.96,1)" font-size="6.69" fill="#1a1a1a">79.6</text>
<text transform="translate(58.94,142.55) scale(0.96,1)" font-size="6.69" fill="#1a1a1a">5.6</text>
<text transform="translate(33.19,154.80) scale(0.931,1)" font-size="6.69" fill="#1a1a1a">CTRL-IgG</text>
<ellipse cx="87.3" cy="115.7" rx="5.2" ry="9" fill="url(#trail)" opacity="0.95"/>
<ellipse cx="105.5" cy="130.0" rx="15" ry="6.5" fill="url(#lr)" opacity="0.90"/>
<ellipse cx="85.8" cy="129.0" rx="11.5" ry="10.5" fill="url(#halo)"/>
<g transform="rotate(-40 85.8 128.5)">
<ellipse cx="85.8" cy="128.5" rx="7.0" ry="5.6" fill="url(#core)"/>
<ellipse cx="88.0" cy="127.9" rx="3.6" ry="3.2" fill="url(#core)" opacity="0.8"/>
<ellipse cx="83.4" cy="129.1" rx="3.6" ry="3.2" fill="url(#core)" opacity="0.7"/>
</g>
<path d="M91.2 130.1h.9v.9h-.9zM83.3 123.7h.9v.9h-.9zM90.5 133.5h.9v.9h-.9zM89.9 128.4h.9v.9h-.9zM80.1 130.5h.9v.9h-.9zM87.6 130.8h.9v.9h-.9zM84.6 127.6h.9v.9h-.9zM84.0 119.2h.9v.9h-.9zM84.6 131.5h.9v.9h-.9zM86.7 122.8h.9v.9h-.9zM90.5 128.2h.9v.9h-.9zM95.8 122.1h.9v.9h-.9zM82.4 124.9h.9v.9h-.9zM83.4 123.5h.9v.9h-.9zM88.6 129.8h.9v.9h-.9zM82.1 127.5h.9v.9h-.9zM81.1 136.7h.9v.9h-.9zM90.9 136.2h.9v.9h-.9zM89.5 136.0h.9v.9h-.9zM87.7 131.9h.9v.9h-.9zM90.2 133.7h.9v.9h-.9zM87.4 132.7h.9v.9h-.9zM82.3 133.1h.9v.9h-.9zM85.1 137.4h.9v.9h-.9zM75.6 122.1h.9v.9h-.9zM88.9 138.4h.9v.9h-.9zM84.4 133.6h.9v.9h-.9zM82.3 115.5h.9v.9h-.9zM82.2 114.2h.9v.9h-.9zM84.6 116.5h.9v.9h-.9zM91.9 122.0h.9v.9h-.9zM81.8 109.0h.9v.9h-.9zM85.3 112.8h.9v.9h-.9zM86.3 113.5h.9v.9h-.9zM87.8 119.2h.9v.9h-.9zM93.4 112.2h.9v.9h-.9zM91.4 119.3h.9v.9h-.9zM86.9 110.0h.9v.9h-.9zM86.6 114.3h.9v.9h-.9zM83.3 110.1h.9v.9h-.9z" fill="#000" fill-opacity="0.4"/>
<path d="M84.1 130.6h.9v.9h-.9zM86.8 130.4h.9v.9h-.9zM84.4 130.9h.9v.9h-.9zM84.4 119.5h.9v.9h-.9zM77.1 124.5h.9v.9h-.9zM81.9 129.5h.9v.9h-.9zM90.4 133.6h.9v.9h-.9zM76.9 135.4h.9v.9h-.9zM88.9 132.9h.9v.9h-.9zM96.2 129.7h.9v.9h-.9zM85.8 127.3h.9v.9h-.9zM87.0 133.9h.9v.9h-.9zM92.9 130.5h.9v.9h-.9zM92.3 130.8h.9v.9h-.9zM88.3 126.4h.9v.9h-.9zM83.1 122.0h.9v.9h-.9zM88.5 124.2h.9v.9h-.9zM83.8 123.1h.9v.9h-.9zM90.8 128.1h.9v.9h-.9zM90.9 122.2h.9v.9h-.9zM88.5 125.2h.9v.9h-.9zM89.2 126.0h.9v.9h-.9zM86.6 127.1h.9v.9h-.9zM94.4 140.9h.9v.9h-.9zM84.4 126.6h.9v.9h-.9zM80.6 131.9h.9v.9h-.9zM83.8 133.6h.9v.9h-.9zM86.6 122.9h.9v.9h-.9zM82.1 129.8h.9v.9h-.9zM83.6 131.7h.9v.9h-.9zM84.2 121.2h.9v.9h-.9zM78.5 130.9h.9v.9h-.9zM85.4 125.1h.9v.9h-.9zM76.9 132.1h.9v.9h-.9zM83.7 125.3h.9v.9h-.9zM89.2 126.0h.9v.9h-.9zM87.2 123.3h.9v.9h-.9zM90.8 110.7h.9v.9h-.9zM83.9 117.2h.9v.9h-.9zM91.7 118.4h.9v.9h-.9zM87.4 109.9h.9v.9h-.9zM89.3 115.9h.9v.9h-.9zM91.1 119.5h.9v.9h-.9zM93.4 120.0h.9v.9h-.9zM87.4 121.2h.9v.9h-.9zM86.6 110.2h.9v.9h-.9zM90.3 108.1h.9v.9h-.9zM90.3 115.4h.9v.9h-.9zM88.2 121.0h.9v.9h-.9zM87.8 120.8h.9v.9h-.9zM89.9 110.6h.9v.9h-.9zM84.7 105.7h.9v.9h-.9zM109.7 124.0h.9v.9h-.9zM116.0 130.1h.9v.9h-.9zM119.3 126.7h.9v.9h-.9zM111.5 138.4h.9v.9h-.9zM97.0 132.0h.9v.9h-.9zM108.0 129.0h.9v.9h-.9zM103.9 129.6h.9v.9h-.9zM113.7 129.7h.9v.9h-.9zM107.1 126.6h.9v.9h-.9zM102.5 131.1h.9v.9h-.9z" fill="#000" fill-opacity="0.3"/>
<path d="M89.4 129.5h.9v.9h-.9zM82.0 125.2h.9v.9h-.9zM79.8 128.7h.9v.9h-.9zM91.2 135.3h.9v.9h-.9zM91.5 130.4h.9v.9h-.9zM92.5 128.0h.9v.9h-.9zM85.8 133.0h.9v.9h-.9zM84.0 130.6h.9v.9h-.9zM79.0 121.6h.9v.9h-.9zM84.4 136.3h.9v.9h-.9zM86.7 131.2h.9v.9h-.9zM87.6 123.0h.9v.9h-.9zM90.2 124.6h.9v.9h-.9zM92.1 129.0h.9v.9h-.9zM79.3 127.8h.9v.9h-.9zM89.0 127.8h.9v.9h-.9zM90.6 126.2h.9v.9h-.9zM94.7 125.9h.9v.9h-.9zM83.5 130.9h.9v.9h-.9zM84.4 121.0h.9v.9h-.9zM78.1 124.2h.9v.9h-.9zM86.1 130.6h.9v.9h-.9zM82.0 127.5h.9v.9h-.9zM82.9 131.5h.9v.9h-.9zM84.6 132.7h.9v.9h-.9zM91.4 130.0h.9v.9h-.9zM84.7 128.8h.9v.9h-.9zM82.3 109.4h.9v.9h-.9zM89.1 121.2h.9v.9h-.9zM87.1 116.6h.9v.9h-.9zM89.1 113.4h.9v.9h-.9zM87.7 114.4h.9v.9h-.9zM86.0 115.0h.9v.9h-.9zM90.9 111.8h.9v.9h-.9zM91.0 118.9h.9v.9h-.9zM101.5 128.9h.9v.9h-.9zM104.6 128.0h.9v.9h-.9zM119.5 132.4h.9v.9h-.9zM108.1 129.6h.9v.9h-.9zM117.4 130.1h.9v.9h-.9zM110.0 133.3h.9v.9h-.9zM104.4 129.3h.9v.9h-.9zM111.6 129.4h.9v.9h-.9zM118.1 123.5h.9v.9h-.9zM115.6 133.4h.9v.9h-.9zM97.7 128.6h.9v.9h-.9zM114.8 125.3h.9v.9h-.9zM111.9 128.2h.9v.9h-.9zM109.6 131.4h.9v.9h-.9zM119.0 128.8h.9v.9h-.9zM98.3 131.9h.9v.9h-.9zM114.3 97.5h.9v.9h-.9zM84.9 126.9h.9v.9h-.9zM107.6 106.5h.9v.9h-.9zM118.6 137.5h.9v.9h-.9zM99.1 97.6h.9v.9h-.9zM116.0 98.3h.9v.9h-.9zM76.2 135.9h.9v.9h-.9zM78.1 111.7h.9v.9h-.9zM94.1 123.7h.9v.9h-.9zM78.7 119.9h.9v.9h-.9zM94.5 132.5h.9v.9h-.9zM112.0 106.5h.9v.9h-.9zM110.6 95.4h.9v.9h-.9zM98.9 128.2h.9v.9h-.9zM106.1 105.5h.9v.9h-.9zM96.4 108.2h.9v.9h-.9zM78.4 127.3h.9v.9h-.9zM76.6 100.8h.9v.9h-.9zM113.2 135.9h.9v.9h-.9zM119.4 103.1h.9v.9h-.9zM117.4 104.8h.9v.9h-.9zM80.1 99.1h.9v.9h-.9zM102.1 117.2h.9v.9h-.9zM103.7 101.5h.9v.9h-.9zM101.5 124.9h.9v.9h-.9z" fill="#000" fill-opacity="0.1"/>
<path d="M94.7 128.5h.9v.9h-.9zM81.2 132.1h.9v.9h-.9zM87.3 129.0h.9v.9h-.9zM92.4 132.3h.9v.9h-.9zM86.3 124.0h.9v.9h-.9zM78.7 136.1h.9v.9h-.9zM96.9 132.4h.9v.9h-.9zM93.0 124.2h.9v.9h-.9zM82.3 138.7h.9v.9h-.9zM92.4 127.0h.9v.9h-.9zM86.1 124.8h.9v.9h-.9zM87.5 130.4h.9v.9h-.9zM82.6 132.3h.9v.9h-.9zM82.2 132.4h.9v.9h-.9zM83.0 125.6h.9v.9h-.9zM89.2 119.1h.9v.9h-.9zM85.6 136.8h.9v.9h-.9zM87.0 132.6h.9v.9h-.9zM80.0 122.7h.9v.9h-.9zM79.3 130.8h.9v.9h-.9zM90.9 130.0h.9v.9h-.9zM87.6 130.2h.9v.9h-.9zM86.8 127.2h.9v.9h-.9zM87.2 127.8h.9v.9h-.9zM80.6 131.9h.9v.9h-.9zM87.9 130.6h.9v.9h-.9zM95.3 128.3h.9v.9h-.9zM80.4 130.4h.9v.9h-.9zM82.8 134.3h.9v.9h-.9zM90.5 130.3h.9v.9h-.9zM87.8 129.4h.9v.9h-.9zM83.8 133.0h.9v.9h-.9zM94.3 129.7h.9v.9h-.9zM93.1 141.5h.9v.9h-.9zM86.7 126.8h.9v.9h-.9zM84.2 128.9h.9v.9h-.9zM86.0 136.5h.9v.9h-.9zM80.4 132.0h.9v.9h-.9zM90.8 109.7h.9v.9h-.9zM90.4 116.9h.9v.9h-.9zM89.5 119.5h.9v.9h-.9zM86.7 113.6h.9v.9h-.9zM84.6 118.7h.9v.9h-.9zM91.7 110.5h.9v.9h-.9zM87.7 114.5h.9v.9h-.9zM87.7 109.8h.9v.9h-.9zM83.2 114.5h.9v.9h-.9zM85.1 109.1h.9v.9h-.9zM86.5 106.8h.9v.9h-.9zM85.6 117.9h.9v.9h-.9zM85.3 112.6h.9v.9h-.9zM106.3 134.3h.9v.9h-.9zM116.6 129.9h.9v.9h-.9zM103.8 136.1h.9v.9h-.9zM119.7 129.7h.9v.9h-.9zM116.3 131.0h.9v.9h-.9zM104.7 132.6h.9v.9h-.9zM119.9 129.7h.9v.9h-.9zM109.8 123.9h.9v.9h-.9zM107.0 126.8h.9v.9h-.9zM96.2 129.1h.9v.9h-.9zM101.8 131.9h.9v.9h-.9zM113.5 131.2h.9v.9h-.9zM114.3 132.0h.9v.9h-.9zM110.0 132.0h.9v.9h-.9zM117.2 131.2h.9v.9h-.9zM95.2 125.8h.9v.9h-.9zM113.0 128.6h.9v.9h-.9zM109.3 126.5h.9v.9h-.9zM103.4 132.3h.9v.9h-.9zM110.2 130.3h.9v.9h-.9zM108.1 130.2h.9v.9h-.9z" fill="#000" fill-opacity="0.2"/>
<rect x="73.50" y="94.50" width="49.00" height="49.00" fill="none" stroke="#747474" stroke-width="1"/>
<line x1="93.50" y1="94.20" x2="93.50" y2="143.40" stroke="#666" stroke-width="1"/>
<line x1="73.30" y1="122.50" x2="122.10" y2="122.50" stroke="#666" stroke-width="1"/>
<text transform="translate(75.52,100.95) scale(0.96,1)" font-size="6.69" fill="#1a1a1a">14.7</text>
<text transform="translate(111.79,100.95) scale(0.96,1)" font-size="6.69" fill="#1a1a1a">0.2</text>
<text transform="translate(75.68,142.55) scale(0.96,1)" font-size="6.69" fill="#1a1a1a">79.6</text>
<text transform="translate(112.53,142.55) scale(0.96,1)" font-size="6.69" fill="#1a1a1a">5.5</text>
<text transform="translate(86.67,154.40) scale(1.000,1)" font-size="6.69" fill="#1a1a1a">20 μg / mL</text>
<text transform="translate(86.92,161.60) scale(0.976,1)" font-size="6.69" fill="#1a1a1a">anti-IL6Rα</text>
<ellipse cx="141.6" cy="115.7" rx="6.2" ry="9" fill="url(#trail)" opacity="1.00"/>
<ellipse cx="159.4" cy="130.3" rx="15" ry="6.5" fill="url(#lr)" opacity="0.60"/>
<ellipse cx="140.1" cy="129.3" rx="13.2" ry="12.1" fill="url(#halo)"/>
<g transform="rotate(-40 140.1 128.8)">
<ellipse cx="140.1" cy="128.8" rx="8.0" ry="6.4" fill="url(#core)"/>
<ellipse cx="142.6" cy="128.2" rx="4.1" ry="3.7" fill="url(#core)" opacity="0.8"/>
<ellipse cx="137.3" cy="129.4" rx="4.1" ry="3.7" fill="url(#core)" opacity="0.7"/>
</g>
<path d="M140.9 130.6h.9v.9h-.9zM141.0 133.9h.9v.9h-.9zM141.7 114.0h.9v.9h-.9zM141.9 119.0h.9v.9h-.9zM141.1 133.1h.9v.9h-.9zM129.2 136.2h.9v.9h-.9zM131.7 127.9h.9v.9h-.9zM135.7 124.4h.9v.9h-.9zM129.2 136.0h.9v.9h-.9zM136.1 136.3h.9v.9h-.9zM146.0 129.4h.9v.9h-.9zM139.1 124.3h.9v.9h-.9zM134.8 124.3h.9v.9h-.9zM131.2 129.5h.9v.9h-.9zM143.0 139.0h.9v.9h-.9zM149.2 129.9h.9v.9h-.9zM138.8 129.8h.9v.9h-.9zM133.7 125.6h.9v.9h-.9zM132.1 135.3h.9v.9h-.9zM138.9 124.3h.9v.9h-.9zM138.3 125.5h.9v.9h-.9zM142.5 128.6h.9v.9h-.9zM148.0 132.0h.9v.9h-.9zM130.1 135.9h.9v.9h-.9zM140.3 129.1h.9v.9h-.9zM131.0 136.0h.9v.9h-.9zM144.8 134.7h.9v.9h-.9zM137.1 119.7h.9v.9h-.9zM140.6 127.3h.9v.9h-.9zM148.8 129.4h.9v.9h-.9zM138.0 135.0h.9v.9h-.9zM150.1 133.7h.9v.9h-.9zM141.9 136.4h.9v.9h-.9zM136.0 124.4h.9v.9h-.9zM139.9 129.2h.9v.9h-.9zM144.7 134.2h.9v.9h-.9zM137.5 115.9h.9v.9h-.9zM140.6 117.2h.9v.9h-.9zM139.8 109.2h.9v.9h-.9zM144.0 119.0h.9v.9h-.9zM136.8 113.6h.9v.9h-.9zM134.2 108.8h.9v.9h-.9zM142.6 108.9h.9v.9h-.9zM139.9 106.5h.9v.9h-.9zM137.6 115.5h.9v.9h-.9zM143.0 107.6h.9v.9h-.9zM139.4 113.3h.9v.9h-.9zM145.7 112.0h.9v.9h-.9zM143.4 113.8h.9v.9h-.9zM144.4 110.9h.9v.9h-.9zM140.4 120.0h.9v.9h-.9zM141.4 120.4h.9v.9h-.9zM139.8 105.0h.9v.9h-.9zM135.8 111.9h.9v.9h-.9zM137.7 118.7h.9v.9h-.9zM142.6 118.1h.9v.9h-.9zM151.1 126.7h.9v.9h-.9zM162.4 129.3h.9v.9h-.9zM152.8 125.1h.9v.9h-.9zM151.3 128.9h.9v.9h-.9zM160.8 128.4h.9v.9h-.9zM155.9 135.7h.9v.9h-.9zM171.1 130.2h.9v.9h-.9zM159.7 128.5h.9v.9h-.9zM159.0 128.0h.9v.9h-.9zM153.8 127.2h.9v.9h-.9zM160.7 134.6h.9v.9h-.9zM162.8 129.0h.9v.9h-.9zM150.4 125.5h.9v.9h-.9zM168.9 131.0h.9v.9h-.9zM149.4 124.9h.9v.9h-.9zM152.7 134.7h.9v.9h-.9z" fill="#000" fill-opacity="0.2"/>
<path d="M137.3 133.1h.9v.9h-.9zM128.2 128.3h.9v.9h-.9zM146.0 134.7h.9v.9h-.9zM141.9 131.8h.9v.9h-.9zM147.3 129.6h.9v.9h-.9zM137.9 126.5h.9v.9h-.9zM142.0 136.7h.9v.9h-.9zM137.0 133.4h.9v.9h-.9zM140.6 127.6h.9v.9h-.9zM135.1 125.9h.9v.9h-.9zM146.2 138.2h.9v.9h-.9zM141.5 119.1h.9v.9h-.9zM140.4 129.7h.9v.9h-.9zM135.5 125.1h.9v.9h-.9zM140.0 126.0h.9v.9h-.9zM139.9 127.8h.9v.9h-.9zM129.6 129.4h.9v.9h-.9zM140.0 118.3h.9v.9h-.9zM142.5 120.4h.9v.9h-.9zM141.0 115.0h.9v.9h-.9zM141.3 112.5h.9v.9h-.9zM137.3 112.1h.9v.9h-.9zM139.0 111.0h.9v.9h-.9zM137.0 118.3h.9v.9h-.9zM143.9 113.9h.9v.9h-.9zM144.8 111.8h.9v.9h-.9zM144.6 115.7h.9v.9h-.9zM140.3 119.2h.9v.9h-.9zM142.9 119.6h.9v.9h-.9zM143.3 110.0h.9v.9h-.9zM145.5 113.0h.9v.9h-.9zM142.1 117.4h.9v.9h-.9zM146.3 110.9h.9v.9h-.9zM159.8 129.4h.9v.9h-.9zM172.7 124.7h.9v.9h-.9zM159.4 128.6h.9v.9h-.9zM166.9 129.6h.9v.9h-.9zM158.4 125.1h.9v.9h-.9zM160.5 133.4h.9v.9h-.9zM161.6 127.9h.9v.9h-.9zM153.1 125.9h.9v.9h-.9zM155.3 129.6h.9v.9h-.9zM147.6 116.3h.9v.9h-.9zM158.0 116.7h.9v.9h-.9zM162.2 109.4h.9v.9h-.9zM161.9 129.8h.9v.9h-.9zM133.5 129.6h.9v.9h-.9zM164.9 123.9h.9v.9h-.9zM131.6 112.1h.9v.9h-.9zM133.2 97.0h.9v.9h-.9zM167.4 124.3h.9v.9h-.9zM131.9 133.9h.9v.9h-.9zM160.4 104.8h.9v.9h-.9zM128.6 103.2h.9v.9h-.9zM172.2 96.8h.9v.9h-.9zM161.9 130.4h.9v.9h-.9zM131.6 134.6h.9v.9h-.9zM170.0 121.4h.9v.9h-.9zM162.2 125.2h.9v.9h-.9zM163.1 118.4h.9v.9h-.9zM149.4 115.8h.9v.9h-.9zM164.4 122.3h.9v.9h-.9zM140.6 136.6h.9v.9h-.9zM144.1 96.5h.9v.9h-.9zM156.7 139.5h.9v.9h-.9zM161.5 130.3h.9v.9h-.9zM158.8 115.5h.9v.9h-.9z" fill="#000" fill-opacity="0.1"/>
<path d="M145.4 134.7h.9v.9h-.9zM133.7 117.7h.9v.9h-.9zM130.9 128.3h.9v.9h-.9zM142.9 119.7h.9v.9h-.9zM144.9 129.8h.9v.9h-.9zM142.7 120.8h.9v.9h-.9zM141.2 126.7h.9v.9h-.9zM132.7 131.6h.9v.9h-.9zM140.8 120.5h.9v.9h-.9zM147.8 129.5h.9v.9h-.9zM135.5 138.4h.9v.9h-.9zM135.7 136.4h.9v.9h-.9zM145.2 122.7h.9v.9h-.9zM135.4 121.4h.9v.9h-.9zM144.0 134.5h.9v.9h-.9zM135.1 130.5h.9v.9h-.9zM137.8 132.4h.9v.9h-.9zM135.2 125.8h.9v.9h-.9zM152.9 128.4h.9v.9h-.9zM149.2 127.7h.9v.9h-.9zM144.5 122.8h.9v.9h-.9zM137.9 129.2h.9v.9h-.9zM137.6 131.0h.9v.9h-.9zM140.9 126.9h.9v.9h-.9zM149.9 134.1h.9v.9h-.9zM135.8 126.3h.9v.9h-.9zM145.0 125.3h.9v.9h-.9zM138.3 120.4h.9v.9h-.9zM139.4 126.3h.9v.9h-.9zM142.6 112.6h.9v.9h-.9zM139.3 105.6h.9v.9h-.9zM141.3 114.7h.9v.9h-.9zM140.8 115.5h.9v.9h-.9zM142.1 119.5h.9v.9h-.9zM142.6 111.4h.9v.9h-.9zM140.7 113.1h.9v.9h-.9zM145.2 115.1h.9v.9h-.9z" fill="#000" fill-opacity="0.4"/>
<path d="M148.0 123.5h.9v.9h-.9zM145.4 132.8h.9v.9h-.9zM135.0 138.1h.9v.9h-.9zM143.5 126.8h.9v.9h-.9zM141.5 121.1h.9v.9h-.9zM144.0 122.7h.9v.9h-.9zM135.9 132.7h.9v.9h-.9zM141.2 136.4h.9v.9h-.9zM128.7 129.2h.9v.9h-.9zM141.4 119.9h.9v.9h-.9zM144.6 122.1h.9v.9h-.9zM139.2 126.4h.9v.9h-.9zM133.5 129.5h.9v.9h-.9zM131.0 123.6h.9v.9h-.9zM144.7 130.1h.9v.9h-.9zM142.3 132.9h.9v.9h-.9zM147.4 125.0h.9v.9h-.9zM135.5 127.6h.9v.9h-.9zM146.3 131.2h.9v.9h-.9zM149.2 136.5h.9v.9h-.9zM153.2 111.9h.9v.9h-.9zM141.7 122.2h.9v.9h-.9zM134.1 123.3h.9v.9h-.9zM139.7 131.8h.9v.9h-.9zM146.1 140.8h.9v.9h-.9zM145.0 134.3h.9v.9h-.9zM144.8 120.4h.9v.9h-.9zM136.8 123.4h.9v.9h-.9zM147.3 136.6h.9v.9h-.9zM143.4 124.2h.9v.9h-.9zM142.4 128.4h.9v.9h-.9zM139.1 129.1h.9v.9h-.9zM136.1 128.3h.9v.9h-.9zM151.7 123.7h.9v.9h-.9zM146.2 123.1h.9v.9h-.9zM138.8 131.7h.9v.9h-.9zM146.4 130.4h.9v.9h-.9zM143.7 128.5h.9v.9h-.9zM147.0 125.2h.9v.9h-.9zM144.4 120.6h.9v.9h-.9zM143.0 127.1h.9v.9h-.9zM139.3 129.4h.9v.9h-.9zM145.9 124.7h.9v.9h-.9zM136.6 121.0h.9v.9h-.9zM144.2 125.5h.9v.9h-.9zM153.5 129.1h.9v.9h-.9zM136.9 106.7h.9v.9h-.9zM141.3 118.0h.9v.9h-.9zM144.8 108.8h.9v.9h-.9zM140.5 119.7h.9v.9h-.9zM140.9 113.7h.9v.9h-.9zM140.4 116.0h.9v.9h-.9zM140.0 110.7h.9v.9h-.9zM142.6 116.0h.9v.9h-.9zM142.9 118.2h.9v.9h-.9zM144.6 111.5h.9v.9h-.9zM145.6 115.6h.9v.9h-.9zM139.2 114.0h.9v.9h-.9zM143.5 112.4h.9v.9h-.9zM142.0 108.9h.9v.9h-.9zM140.9 121.3h.9v.9h-.9zM136.4 120.4h.9v.9h-.9zM142.7 115.3h.9v.9h-.9zM138.3 113.9h.9v.9h-.9zM144.0 113.5h.9v.9h-.9zM143.7 121.7h.9v.9h-.9zM142.2 116.9h.9v.9h-.9zM142.3 113.1h.9v.9h-.9zM141.2 117.8h.9v.9h-.9zM162.3 130.6h.9v.9h-.9zM172.6 130.9h.9v.9h-.9zM148.4 130.7h.9v.9h-.9zM168.3 129.6h.9v.9h-.9zM153.1 125.4h.9v.9h-.9zM154.9 131.1h.9v.9h-.9z" fill="#000" fill-opacity="0.3"/>
<rect x="127.50" y="94.50" width="49.00" height="49.00" fill="none" stroke="#747474" stroke-width="1"/>
<line x1="147.50" y1="94.20" x2="147.50" y2="143.40" stroke="#666" stroke-width="1"/>
<line x1="127.10" y1="122.50" x2="176.20" y2="122.50" stroke="#666" stroke-width="1"/>
<text transform="translate(129.32,100.95) scale(0.96,1)" font-size="6.69" fill="#1a1a1a">16.3</text>
<text transform="translate(165.89,100.95) scale(0.96,1)" font-size="6.69" fill="#1a1a1a">0.2</text>
<text transform="translate(129.53,142.55) scale(0.96,1)" font-size="6.69" fill="#1a1a1a">80.2</text>
<text transform="translate(166.64,142.55) scale(0.96,1)" font-size="6.69" fill="#1a1a1a">3.3</text>
<text transform="translate(141.65,154.40) scale(0.969,1)" font-size="6.69" fill="#1a1a1a">40 μg / mL</text>
<text transform="translate(141.52,161.60) scale(0.969,1)" font-size="6.69" fill="#1a1a1a">anti-IL6Rα</text>
<ellipse cx="33.4" cy="187.7" rx="4.2" ry="9" fill="url(#trail)" opacity="0.76"/>
<ellipse cx="52.1" cy="204.1" rx="15" ry="6.5" fill="url(#lr)" opacity="1.00"/>
<ellipse cx="31.9" cy="203.1" rx="10.9" ry="10.0" fill="url(#halo)"/>
<g transform="rotate(-40 31.9 202.6)">
<ellipse cx="31.9" cy="202.6" rx="6.6" ry="5.3" fill="url(#core)"/>
<ellipse cx="34.0" cy="202.0" rx="3.4" ry="3.0" fill="url(#core)" opacity="0.8"/>
<ellipse cx="29.6" cy="203.2" rx="3.4" ry="3.0" fill="url(#core)" opacity="0.7"/>
</g>
<path d="M31.2 207.2h.9v.9h-.9zM33.8 196.0h.9v.9h-.9zM28.0 204.0h.9v.9h-.9zM43.7 196.4h.9v.9h-.9zM29.2 199.6h.9v.9h-.9zM36.5 202.6h.9v.9h-.9zM39.1 207.1h.9v.9h-.9zM32.9 198.0h.9v.9h-.9zM28.0 205.0h.9v.9h-.9zM31.4 201.7h.9v.9h-.9zM30.4 201.7h.9v.9h-.9zM28.6 194.8h.9v.9h-.9zM40.2 207.7h.9v.9h-.9zM33.1 213.0h.9v.9h-.9zM29.9 204.1h.9v.9h-.9zM31.8 208.2h.9v.9h-.9zM23.4 197.6h.9v.9h-.9zM26.3 201.4h.9v.9h-.9zM37.5 207.4h.9v.9h-.9zM34.6 197.1h.9v.9h-.9zM32.9 211.1h.9v.9h-.9zM32.7 208.1h.9v.9h-.9zM30.8 197.4h.9v.9h-.9zM33.7 202.2h.9v.9h-.9zM30.2 208.9h.9v.9h-.9zM30.8 206.7h.9v.9h-.9zM26.4 198.0h.9v.9h-.9zM28.1 207.2h.9v.9h-.9zM41.4 204.4h.9v.9h-.9zM33.9 207.6h.9v.9h-.9zM33.9 208.6h.9v.9h-.9zM38.0 205.9h.9v.9h-.9zM28.5 200.3h.9v.9h-.9zM26.6 199.6h.9v.9h-.9zM30.3 202.9h.9v.9h-.9zM30.0 205.5h.9v.9h-.9zM31.7 207.6h.9v.9h-.9zM31.6 205.9h.9v.9h-.9zM36.4 195.9h.9v.9h-.9zM32.7 190.5h.9v.9h-.9zM30.3 186.1h.9v.9h-.9zM27.2 185.9h.9v.9h-.9zM33.3 187.9h.9v.9h-.9zM34.5 185.9h.9v.9h-.9zM32.6 182.3h.9v.9h-.9zM38.0 182.5h.9v.9h-.9z" fill="#000" fill-opacity="0.4"/>
<path d="M27.9 201.9h.9v.9h-.9zM27.2 199.8h.9v.9h-.9zM34.0 205.1h.9v.9h-.9zM31.2 204.4h.9v.9h-.9zM34.7 200.4h.9v.9h-.9zM31.1 201.5h.9v.9h-.9zM36.9 200.4h.9v.9h-.9zM29.0 213.6h.9v.9h-.9zM32.0 200.9h.9v.9h-.9zM24.8 198.3h.9v.9h-.9zM37.6 203.6h.9v.9h-.9zM32.8 207.5h.9v.9h-.9zM29.1 201.1h.9v.9h-.9zM35.2 191.5h.9v.9h-.9zM31.3 199.6h.9v.9h-.9zM30.7 205.3h.9v.9h-.9zM28.5 195.7h.9v.9h-.9zM33.5 202.5h.9v.9h-.9zM25.5 200.6h.9v.9h-.9zM24.8 195.8h.9v.9h-.9zM30.5 199.2h.9v.9h-.9zM35.9 207.0h.9v.9h-.9zM28.0 194.7h.9v.9h-.9zM32.1 185.0h.9v.9h-.9zM37.2 187.0h.9v.9h-.9zM32.0 191.3h.9v.9h-.9zM34.7 182.5h.9v.9h-.9zM34.8 175.9h.9v.9h-.9zM32.9 179.6h.9v.9h-.9zM30.7 190.9h.9v.9h-.9zM65.2 201.1h.9v.9h-.9zM64.1 203.7h.9v.9h-.9zM52.1 200.7h.9v.9h-.9zM50.1 202.4h.9v.9h-.9zM48.0 204.6h.9v.9h-.9zM56.9 203.8h.9v.9h-.9zM49.8 201.8h.9v.9h-.9zM51.0 203.1h.9v.9h-.9zM58.7 206.5h.9v.9h-.9zM59.9 204.7h.9v.9h-.9zM54.3 207.6h.9v.9h-.9zM46.6 205.8h.9v.9h-.9zM44.6 200.5h.9v.9h-.9zM63.2 201.1h.9v.9h-.9zM64.9 197.4h.9v.9h-.9zM49.2 206.4h.9v.9h-.9zM64.2 198.4h.9v.9h-.9zM61.8 204.3h.9v.9h-.9zM62.7 203.7h.9v.9h-.9zM65.1 202.3h.9v.9h-.9zM61.5 206.3h.9v.9h-.9zM45.2 204.4h.9v.9h-.9zM50.9 207.5h.9v.9h-.9zM43.5 197.2h.9v.9h-.9zM49.4 175.6h.9v.9h-.9zM40.1 199.2h.9v.9h-.9zM29.8 184.6h.9v.9h-.9zM64.7 190.3h.9v.9h-.9zM64.9 204.1h.9v.9h-.9zM43.5 173.2h.9v.9h-.9zM24.2 186.0h.9v.9h-.9zM42.5 213.3h.9v.9h-.9zM28.0 175.6h.9v.9h-.9zM44.1 186.5h.9v.9h-.9zM39.2 199.1h.9v.9h-.9zM22.5 190.5h.9v.9h-.9zM47.2 189.0h.9v.9h-.9zM64.9 202.1h.9v.9h-.9zM43.7 172.5h.9v.9h-.9zM29.4 185.1h.9v.9h-.9zM32.5 207.9h.9v.9h-.9zM65.2 168.2h.9v.9h-.9zM35.2 194.3h.9v.9h-.9zM47.6 211.5h.9v.9h-.9zM37.4 202.5h.9v.9h-.9zM32.7 210.6h.9v.9h-.9zM23.8 192.5h.9v.9h-.9zM59.8 205.6h.9v.9h-.9z" fill="#000" fill-opacity="0.1"/>
<path d="M32.3 201.6h.9v.9h-.9zM26.5 201.1h.9v.9h-.9zM30.8 209.0h.9v.9h-.9zM33.9 198.1h.9v.9h-.9zM42.4 204.6h.9v.9h-.9zM27.8 198.9h.9v.9h-.9zM27.8 200.9h.9v.9h-.9zM36.6 208.3h.9v.9h-.9zM33.4 208.7h.9v.9h-.9zM29.1 204.0h.9v.9h-.9zM30.2 201.2h.9v.9h-.9zM33.9 200.7h.9v.9h-.9zM28.6 202.1h.9v.9h-.9zM36.6 203.3h.9v.9h-.9zM31.3 204.6h.9v.9h-.9zM23.4 203.1h.9v.9h-.9zM32.0 195.5h.9v.9h-.9zM31.6 199.0h.9v.9h-.9zM33.7 203.1h.9v.9h-.9zM24.4 194.8h.9v.9h-.9zM33.6 204.1h.9v.9h-.9zM28.2 205.1h.9v.9h-.9zM37.1 206.0h.9v.9h-.9zM33.8 201.6h.9v.9h-.9zM25.7 194.9h.9v.9h-.9zM29.7 205.3h.9v.9h-.9zM36.4 205.5h.9v.9h-.9zM30.8 206.9h.9v.9h-.9zM30.7 202.5h.9v.9h-.9zM33.0 203.2h.9v.9h-.9zM31.4 203.3h.9v.9h-.9zM37.4 195.0h.9v.9h-.9zM35.7 191.2h.9v.9h-.9zM32.4 179.7h.9v.9h-.9zM38.6 187.6h.9v.9h-.9zM39.9 189.4h.9v.9h-.9zM33.9 181.5h.9v.9h-.9zM29.1 193.7h.9v.9h-.9zM33.1 189.8h.9v.9h-.9zM32.1 186.5h.9v.9h-.9zM29.1 184.8h.9v.9h-.9zM32.7 181.3h.9v.9h-.9zM29.4 184.4h.9v.9h-.9zM32.8 183.3h.9v.9h-.9zM29.5 180.1h.9v.9h-.9zM31.4 190.0h.9v.9h-.9zM35.6 184.9h.9v.9h-.9zM36.4 190.8h.9v.9h-.9zM42.3 200.8h.9v.9h-.9zM56.6 199.4h.9v.9h-.9zM47.0 204.4h.9v.9h-.9zM60.4 207.3h.9v.9h-.9zM49.8 206.1h.9v.9h-.9zM55.3 202.5h.9v.9h-.9zM47.9 199.8h.9v.9h-.9zM65.8 208.3h.9v.9h-.9zM49.5 204.2h.9v.9h-.9zM41.1 204.0h.9v.9h-.9zM64.3 205.1h.9v.9h-.9zM48.5 206.6h.9v.9h-.9zM56.3 203.1h.9v.9h-.9zM66.1 202.9h.9v.9h-.9zM48.2 208.3h.9v.9h-.9zM53.4 203.6h.9v.9h-.9zM60.9 203.1h.9v.9h-.9zM44.0 205.9h.9v.9h-.9zM63.4 205.6h.9v.9h-.9zM60.5 204.8h.9v.9h-.9zM59.1 204.2h.9v.9h-.9zM64.8 203.7h.9v.9h-.9zM46.6 200.2h.9v.9h-.9zM48.4 198.5h.9v.9h-.9zM54.6 203.2h.9v.9h-.9zM62.2 204.1h.9v.9h-.9zM57.8 201.5h.9v.9h-.9zM52.4 201.2h.9v.9h-.9zM41.6 202.2h.9v.9h-.9zM51.6 209.7h.9v.9h-.9zM41.7 210.0h.9v.9h-.9zM59.9 197.9h.9v.9h-.9zM60.6 202.9h.9v.9h-.9zM51.9 202.5h.9v.9h-.9zM55.2 202.3h.9v.9h-.9zM62.1 200.3h.9v.9h-.9zM65.6 202.5h.9v.9h-.9z" fill="#000" fill-opacity="0.2"/>
<path d="M32.1 203.8h.9v.9h-.9zM33.0 203.4h.9v.9h-.9zM32.4 205.6h.9v.9h-.9zM27.7 207.4h.9v.9h-.9zM31.8 200.1h.9v.9h-.9zM31.2 195.3h.9v.9h-.9zM29.5 205.8h.9v.9h-.9zM36.6 205.5h.9v.9h-.9zM33.1 204.5h.9v.9h-.9zM34.9 201.7h.9v.9h-.9zM29.6 201.1h.9v.9h-.9zM35.6 207.1h.9v.9h-.9zM33.1 205.6h.9v.9h-.9zM26.6 199.5h.9v.9h-.9zM33.3 203.9h.9v.9h-.9zM39.4 212.1h.9v.9h-.9zM37.1 203.6h.9v.9h-.9zM29.1 196.4h.9v.9h-.9zM37.5 200.2h.9v.9h-.9zM30.9 205.8h.9v.9h-.9zM29.1 209.5h.9v.9h-.9zM35.2 203.1h.9v.9h-.9zM26.2 207.1h.9v.9h-.9zM37.4 206.4h.9v.9h-.9zM27.6 199.7h.9v.9h-.9zM41.5 202.5h.9v.9h-.9zM33.6 206.1h.9v.9h-.9zM31.5 199.1h.9v.9h-.9zM34.4 202.4h.9v.9h-.9zM31.4 201.0h.9v.9h-.9zM30.9 207.8h.9v.9h-.9zM24.0 207.1h.9v.9h-.9zM34.0 198.6h.9v.9h-.9zM33.5 206.6h.9v.9h-.9zM34.7 179.8h.9v.9h-.9zM35.5 187.5h.9v.9h-.9zM38.9 193.0h.9v.9h-.9zM35.9 186.5h.9v.9h-.9zM39.3 189.1h.9v.9h-.9zM33.9 185.7h.9v.9h-.9zM52.9 207.8h.9v.9h-.9zM57.0 205.2h.9v.9h-.9zM60.7 197.6h.9v.9h-.9zM57.1 208.5h.9v.9h-.9zM61.4 204.9h.9v.9h-.9zM44.2 213.2h.9v.9h-.9zM65.6 203.8h.9v.9h-.9zM62.5 201.3h.9v.9h-.9zM64.0 208.8h.9v.9h-.9zM55.7 198.3h.9v.9h-.9zM55.6 207.4h.9v.9h-.9zM66.3 207.2h.9v.9h-.9zM58.4 197.2h.9v.9h-.9zM45.2 205.6h.9v.9h-.9zM47.0 205.4h.9v.9h-.9zM42.0 201.1h.9v.9h-.9zM46.0 205.4h.9v.9h-.9zM50.9 205.7h.9v.9h-.9zM53.8 200.4h.9v.9h-.9z" fill="#000" fill-opacity="0.3"/>
<rect x="19.50" y="166.50" width="49.00" height="50.00" fill="none" stroke="#747474" stroke-width="1"/>
<line x1="40.50" y1="166.20" x2="40.50" y2="216.30" stroke="#666" stroke-width="1"/>
<line x1="19.30" y1="195.50" x2="68.50" y2="195.50" stroke="#666" stroke-width="1"/>
<text transform="translate(21.68,172.95) scale(0.96,1)" font-size="6.69" fill="#1a1a1a">6.9</text>
<text transform="translate(58.16,172.95) scale(0.96,1)" font-size="6.69" fill="#1a1a1a">0.9</text>
<text transform="translate(21.68,215.45) scale(0.96,1)" font-size="6.69" fill="#1a1a1a">78.6</text>
<text transform="translate(55.38,215.45) scale(0.96,1)" font-size="6.69" fill="#1a1a1a">13.6</text>
<text transform="translate(33.49,226.40) scale(0.921,1)" font-size="6.69" fill="#1a1a1a">CTRL-IgG</text>
<ellipse cx="87.3" cy="187.7" rx="4.2" ry="9" fill="url(#trail)" opacity="0.76"/>
<ellipse cx="105.5" cy="203.7" rx="15" ry="6.5" fill="url(#lr)" opacity="1.00"/>
<ellipse cx="85.8" cy="202.7" rx="11.5" ry="10.5" fill="url(#halo)"/>
<g transform="rotate(-40 85.8 202.2)">
<ellipse cx="85.8" cy="202.2" rx="7.0" ry="5.6" fill="url(#core)"/>
<ellipse cx="88.0" cy="201.6" rx="3.6" ry="3.2" fill="url(#core)" opacity="0.8"/>
<ellipse cx="83.4" cy="202.8" rx="3.6" ry="3.2" fill="url(#core)" opacity="0.7"/>
</g>
<path d="M81.7 202.4h.9v.9h-.9zM84.5 209.2h.9v.9h-.9zM84.7 206.0h.9v.9h-.9zM80.7 196.5h.9v.9h-.9zM79.3 205.6h.9v.9h-.9zM96.0 206.8h.9v.9h-.9zM90.5 207.4h.9v.9h-.9zM88.6 202.2h.9v.9h-.9zM82.6 199.4h.9v.9h-.9zM84.8 203.6h.9v.9h-.9zM81.8 207.0h.9v.9h-.9zM84.1 207.2h.9v.9h-.9zM88.2 211.6h.9v.9h-.9zM87.1 201.4h.9v.9h-.9zM91.1 196.7h.9v.9h-.9zM86.2 196.0h.9v.9h-.9zM87.0 205.9h.9v.9h-.9zM89.7 202.3h.9v.9h-.9zM74.5 212.1h.9v.9h-.9zM88.2 202.9h.9v.9h-.9zM85.2 195.2h.9v.9h-.9zM88.0 200.9h.9v.9h-.9zM83.4 197.1h.9v.9h-.9zM83.7 206.2h.9v.9h-.9zM80.2 201.0h.9v.9h-.9zM86.5 197.3h.9v.9h-.9zM79.7 205.4h.9v.9h-.9zM80.1 200.5h.9v.9h-.9zM85.6 204.5h.9v.9h-.9zM89.4 200.4h.9v.9h-.9zM85.2 209.3h.9v.9h-.9zM80.1 195.5h.9v.9h-.9zM92.2 197.0h.9v.9h-.9zM91.8 203.8h.9v.9h-.9zM77.5 210.2h.9v.9h-.9zM90.0 208.2h.9v.9h-.9zM82.3 203.2h.9v.9h-.9zM86.7 199.0h.9v.9h-.9zM87.0 203.3h.9v.9h-.9zM91.0 203.2h.9v.9h-.9zM93.6 207.6h.9v.9h-.9zM86.0 209.0h.9v.9h-.9zM85.4 192.7h.9v.9h-.9zM82.0 193.5h.9v.9h-.9zM81.9 192.7h.9v.9h-.9zM88.6 182.0h.9v.9h-.9zM86.5 180.6h.9v.9h-.9zM86.5 180.0h.9v.9h-.9zM87.3 184.7h.9v.9h-.9zM87.5 189.5h.9v.9h-.9zM86.9 190.8h.9v.9h-.9zM92.5 183.9h.9v.9h-.9zM89.6 194.8h.9v.9h-.9zM91.3 189.4h.9v.9h-.9zM86.5 188.3h.9v.9h-.9zM88.0 192.4h.9v.9h-.9zM86.4 191.5h.9v.9h-.9zM91.5 184.6h.9v.9h-.9zM89.4 187.5h.9v.9h-.9zM82.8 187.3h.9v.9h-.9zM118.8 202.8h.9v.9h-.9zM118.0 196.9h.9v.9h-.9zM102.6 206.2h.9v.9h-.9zM99.2 201.1h.9v.9h-.9zM119.8 204.2h.9v.9h-.9zM109.1 205.9h.9v.9h-.9zM96.7 204.7h.9v.9h-.9zM118.9 203.9h.9v.9h-.9zM100.5 200.0h.9v.9h-.9zM99.0 204.2h.9v.9h-.9zM108.3 196.8h.9v.9h-.9zM112.2 202.3h.9v.9h-.9zM115.4 204.2h.9v.9h-.9zM95.5 203.7h.9v.9h-.9zM99.1 206.3h.9v.9h-.9zM110.7 199.1h.9v.9h-.9zM119.5 209.4h.9v.9h-.9zM104.3 198.3h.9v.9h-.9zM99.8 201.2h.9v.9h-.9zM105.9 206.2h.9v.9h-.9zM95.3 203.1h.9v.9h-.9zM116.4 204.6h.9v.9h-.9zM97.2 203.6h.9v.9h-.9zM112.0 205.8h.9v.9h-.9zM118.0 199.4h.9v.9h-.9zM108.9 201.7h.9v.9h-.9zM98.9 204.7h.9v.9h-.9zM119.8 198.5h.9v.9h-.9zM113.5 204.9h.9v.9h-.9zM98.8 198.0h.9v.9h-.9zM98.7 203.0h.9v.9h-.9zM106.6 201.0h.9v.9h-.9z" fill="#000" fill-opacity="0.2"/>
<path d="M76.9 205.8h.9v.9h-.9zM94.7 201.7h.9v.9h-.9zM79.0 206.1h.9v.9h-.9zM84.7 200.9h.9v.9h-.9zM76.7 199.0h.9v.9h-.9zM88.7 208.4h.9v.9h-.9zM80.0 201.4h.9v.9h-.9zM87.2 195.5h.9v.9h-.9zM88.4 198.1h.9v.9h-.9zM87.4 203.9h.9v.9h-.9zM84.4 207.9h.9v.9h-.9zM93.4 210.3h.9v.9h-.9zM83.9 207.6h.9v.9h-.9zM88.3 207.8h.9v.9h-.9zM78.5 199.3h.9v.9h-.9zM83.4 203.7h.9v.9h-.9zM90.0 206.0h.9v.9h-.9zM77.4 210.6h.9v.9h-.9zM82.7 194.4h.9v.9h-.9zM81.6 202.7h.9v.9h-.9zM81.1 206.6h.9v.9h-.9zM85.2 202.6h.9v.9h-.9zM92.3 204.1h.9v.9h-.9zM81.9 211.9h.9v.9h-.9zM75.7 198.6h.9v.9h-.9zM84.6 201.3h.9v.9h-.9zM85.2 212.3h.9v.9h-.9zM82.0 203.7h.9v.9h-.9zM95.5 206.0h.9v.9h-.9zM81.8 202.5h.9v.9h-.9zM81.0 199.3h.9v.9h-.9zM87.8 209.9h.9v.9h-.9zM89.4 201.3h.9v.9h-.9zM87.2 200.1h.9v.9h-.9zM99.2 198.8h.9v.9h-.9zM90.8 207.7h.9v.9h-.9zM85.5 198.1h.9v.9h-.9zM83.4 209.0h.9v.9h-.9zM88.4 202.9h.9v.9h-.9zM87.3 186.2h.9v.9h-.9zM89.2 183.9h.9v.9h-.9zM86.2 182.1h.9v.9h-.9zM85.9 187.9h.9v.9h-.9zM85.7 191.5h.9v.9h-.9zM86.4 180.1h.9v.9h-.9zM87.6 186.9h.9v.9h-.9zM82.2 194.1h.9v.9h-.9zM84.3 185.9h.9v.9h-.9zM89.7 189.5h.9v.9h-.9zM88.6 185.7h.9v.9h-.9zM84.2 181.2h.9v.9h-.9zM108.8 196.8h.9v.9h-.9zM108.0 201.8h.9v.9h-.9zM118.4 197.1h.9v.9h-.9zM100.4 199.1h.9v.9h-.9zM116.3 200.7h.9v.9h-.9zM112.7 203.1h.9v.9h-.9zM101.5 205.2h.9v.9h-.9zM101.3 202.1h.9v.9h-.9zM109.4 204.7h.9v.9h-.9zM108.0 201.2h.9v.9h-.9zM113.8 208.4h.9v.9h-.9zM118.3 197.3h.9v.9h-.9zM101.1 206.0h.9v.9h-.9zM114.3 198.8h.9v.9h-.9z" fill="#000" fill-opacity="0.3"/>
<path d="M81.4 200.1h.9v.9h-.9zM87.4 200.2h.9v.9h-.9zM83.7 198.8h.9v.9h-.9zM78.1 195.1h.9v.9h-.9zM80.9 203.3h.9v.9h-.9zM86.0 192.3h.9v.9h-.9zM84.3 199.6h.9v.9h-.9zM82.5 201.1h.9v.9h-.9zM81.5 201.9h.9v.9h-.9zM84.6 193.7h.9v.9h-.9zM93.6 197.5h.9v.9h-.9zM80.5 205.2h.9v.9h-.9zM80.2 200.2h.9v.9h-.9zM92.5 203.4h.9v.9h-.9zM85.7 197.6h.9v.9h-.9zM90.5 199.7h.9v.9h-.9zM80.7 201.3h.9v.9h-.9zM81.8 201.5h.9v.9h-.9zM79.9 200.2h.9v.9h-.9zM75.9 203.8h.9v.9h-.9zM81.5 205.3h.9v.9h-.9zM80.4 200.0h.9v.9h-.9zM84.1 194.3h.9v.9h-.9zM85.2 203.1h.9v.9h-.9zM87.0 198.5h.9v.9h-.9zM83.4 203.5h.9v.9h-.9zM89.6 197.5h.9v.9h-.9zM86.9 201.8h.9v.9h-.9zM88.5 187.7h.9v.9h-.9zM87.5 187.0h.9v.9h-.9zM82.1 192.7h.9v.9h-.9zM86.0 191.9h.9v.9h-.9zM93.1 181.0h.9v.9h-.9zM86.7 185.4h.9v.9h-.9z" fill="#000" fill-opacity="0.4"/>
<path d="M91.9 207.1h.9v.9h-.9zM76.9 206.0h.9v.9h-.9zM88.6 213.4h.9v.9h-.9zM79.2 200.9h.9v.9h-.9zM84.2 197.3h.9v.9h-.9zM86.6 210.6h.9v.9h-.9zM74.8 198.4h.9v.9h-.9zM86.8 196.1h.9v.9h-.9zM82.9 193.6h.9v.9h-.9zM93.1 203.9h.9v.9h-.9zM82.0 212.5h.9v.9h-.9zM85.4 207.2h.9v.9h-.9zM94.1 201.3h.9v.9h-.9zM80.9 212.1h.9v.9h-.9zM89.7 198.3h.9v.9h-.9zM91.8 197.9h.9v.9h-.9zM86.3 196.8h.9v.9h-.9zM86.0 210.1h.9v.9h-.9zM82.0 208.0h.9v.9h-.9zM85.2 185.9h.9v.9h-.9zM88.7 186.2h.9v.9h-.9zM88.2 176.1h.9v.9h-.9zM90.8 187.9h.9v.9h-.9zM103.9 202.1h.9v.9h-.9zM99.0 202.2h.9v.9h-.9zM107.4 199.5h.9v.9h-.9zM95.5 204.8h.9v.9h-.9zM102.1 204.1h.9v.9h-.9zM109.0 204.0h.9v.9h-.9zM115.0 201.7h.9v.9h-.9zM99.6 205.3h.9v.9h-.9zM113.6 200.1h.9v.9h-.9zM98.8 203.4h.9v.9h-.9zM105.1 209.3h.9v.9h-.9zM98.4 204.9h.9v.9h-.9zM98.2 202.9h.9v.9h-.9zM102.6 198.1h.9v.9h-.9zM108.5 201.5h.9v.9h-.9zM110.5 202.4h.9v.9h-.9zM111.5 203.9h.9v.9h-.9zM95.0 200.1h.9v.9h-.9zM115.8 207.1h.9v.9h-.9zM108.5 202.2h.9v.9h-.9zM110.9 204.1h.9v.9h-.9zM96.1 206.5h.9v.9h-.9zM99.9 202.8h.9v.9h-.9zM107.3 211.9h.9v.9h-.9zM119.9 199.8h.9v.9h-.9zM106.3 198.5h.9v.9h-.9zM95.7 201.2h.9v.9h-.9zM107.9 198.7h.9v.9h-.9zM97.2 207.2h.9v.9h-.9zM100.2 212.6h.9v.9h-.9zM103.0 171.4h.9v.9h-.9zM86.7 180.3h.9v.9h-.9zM106.0 198.1h.9v.9h-.9zM84.9 213.9h.9v.9h-.9zM106.2 178.8h.9v.9h-.9zM107.2 191.2h.9v.9h-.9zM94.3 168.4h.9v.9h-.9zM110.1 172.4h.9v.9h-.9zM89.9 212.8h.9v.9h-.9zM93.4 192.3h.9v.9h-.9zM100.1 170.5h.9v.9h-.9zM89.1 214.2h.9v.9h-.9zM88.0 182.7h.9v.9h-.9zM81.7 182.1h.9v.9h-.9zM90.4 178.0h.9v.9h-.9zM110.4 181.2h.9v.9h-.9zM113.1 212.8h.9v.9h-.9zM77.5 206.6h.9v.9h-.9zM75.1 180.8h.9v.9h-.9zM96.1 175.5h.9v.9h-.9zM84.0 175.7h.9v.9h-.9zM119.5 200.5h.9v.9h-.9zM75.2 177.3h.9v.9h-.9zM118.2 172.6h.9v.9h-.9z" fill="#000" fill-opacity="0.1"/>
<rect x="73.50" y="166.50" width="49.00" height="50.00" fill="none" stroke="#747474" stroke-width="1"/>
<line x1="93.50" y1="166.20" x2="93.50" y2="216.30" stroke="#666" stroke-width="1"/>
<line x1="73.30" y1="195.50" x2="122.10" y2="195.50" stroke="#666" stroke-width="1"/>
<text transform="translate(75.68,172.95) scale(0.96,1)" font-size="6.69" fill="#1a1a1a">7.2</text>
<text transform="translate(111.79,172.95) scale(0.96,1)" font-size="6.69" fill="#1a1a1a">0.7</text>
<text transform="translate(75.73,215.45) scale(0.96,1)" font-size="6.69" fill="#1a1a1a">80.2</text>
<text transform="translate(109.48,215.45) scale(0.96,1)" font-size="6.69" fill="#1a1a1a">11.9</text>
<text transform="translate(87.17,224.60) scale(0.984,1)" font-size="6.69" fill="#1a1a1a">20 μg / mL</text>
<text transform="translate(87.11,232.90) scale(1.019,1)" font-size="6.69" fill="#1a1a1a">anti-IL1β</text>
<ellipse cx="140.9" cy="187.7" rx="4.2" ry="9" fill="url(#trail)" opacity="0.76"/>
<ellipse cx="159.4" cy="203.3" rx="15" ry="6.5" fill="url(#lr)" opacity="1.00"/>
<ellipse cx="139.4" cy="202.3" rx="11.5" ry="10.5" fill="url(#halo)"/>
<g transform="rotate(-40 139.4 201.8)">
<ellipse cx="139.4" cy="201.8" rx="7.0" ry="5.6" fill="url(#core)"/>
<ellipse cx="141.6" cy="201.2" rx="3.6" ry="3.2" fill="url(#core)" opacity="0.8"/>
<ellipse cx="137.0" cy="202.4" rx="3.6" ry="3.2" fill="url(#core)" opacity="0.7"/>
</g>
<path d="M139.0 201.8h.9v.9h-.9zM138.3 200.6h.9v.9h-.9zM137.5 200.4h.9v.9h-.9zM132.2 210.9h.9v.9h-.9zM138.0 201.8h.9v.9h-.9zM139.8 200.2h.9v.9h-.9zM140.8 203.0h.9v.9h-.9zM132.4 208.3h.9v.9h-.9zM145.7 202.8h.9v.9h-.9zM144.7 205.2h.9v.9h-.9zM140.4 209.9h.9v.9h-.9zM138.6 204.9h.9v.9h-.9zM136.7 199.2h.9v.9h-.9zM147.1 202.5h.9v.9h-.9zM135.2 203.1h.9v.9h-.9zM135.7 205.6h.9v.9h-.9zM141.0 192.4h.9v.9h-.9zM137.3 210.1h.9v.9h-.9zM142.9 204.9h.9v.9h-.9zM133.5 204.1h.9v.9h-.9zM137.2 193.4h.9v.9h-.9zM138.4 195.3h.9v.9h-.9zM140.4 203.6h.9v.9h-.9zM136.1 208.6h.9v.9h-.9zM142.6 194.3h.9v.9h-.9zM139.4 202.0h.9v.9h-.9zM138.3 204.7h.9v.9h-.9zM141.5 203.3h.9v.9h-.9zM140.2 202.4h.9v.9h-.9zM140.1 201.8h.9v.9h-.9zM142.0 204.2h.9v.9h-.9zM135.8 198.0h.9v.9h-.9zM139.9 199.6h.9v.9h-.9zM137.4 204.1h.9v.9h-.9zM131.8 198.6h.9v.9h-.9zM140.5 209.1h.9v.9h-.9zM132.6 201.6h.9v.9h-.9zM144.1 207.7h.9v.9h-.9zM142.1 208.7h.9v.9h-.9zM136.1 198.9h.9v.9h-.9zM137.9 200.1h.9v.9h-.9zM140.2 185.7h.9v.9h-.9zM145.3 188.5h.9v.9h-.9zM142.9 179.9h.9v.9h-.9zM138.5 185.7h.9v.9h-.9zM139.1 188.0h.9v.9h-.9zM145.7 187.1h.9v.9h-.9zM134.3 183.9h.9v.9h-.9zM141.7 190.0h.9v.9h-.9zM139.4 185.8h.9v.9h-.9zM140.8 177.2h.9v.9h-.9z" fill="#000" fill-opacity="0.4"/>
<path d="M143.9 196.1h.9v.9h-.9zM136.0 202.9h.9v.9h-.9zM141.5 198.4h.9v.9h-.9zM136.4 204.2h.9v.9h-.9zM142.7 202.7h.9v.9h-.9zM137.4 207.1h.9v.9h-.9zM145.6 202.0h.9v.9h-.9zM136.5 211.3h.9v.9h-.9zM139.9 195.8h.9v.9h-.9zM143.3 200.4h.9v.9h-.9zM144.1 200.3h.9v.9h-.9zM133.0 195.5h.9v.9h-.9zM137.2 210.2h.9v.9h-.9zM128.1 208.1h.9v.9h-.9zM144.7 204.9h.9v.9h-.9zM133.7 202.2h.9v.9h-.9zM140.2 203.6h.9v.9h-.9zM130.2 201.4h.9v.9h-.9zM143.0 183.8h.9v.9h-.9zM141.1 185.4h.9v.9h-.9zM141.2 188.1h.9v.9h-.9zM146.0 184.8h.9v.9h-.9zM141.1 190.6h.9v.9h-.9zM170.9 202.3h.9v.9h-.9zM170.1 201.8h.9v.9h-.9zM164.6 201.3h.9v.9h-.9zM172.8 200.0h.9v.9h-.9zM154.3 204.1h.9v.9h-.9zM166.8 201.9h.9v.9h-.9zM173.4 208.7h.9v.9h-.9zM156.7 199.3h.9v.9h-.9zM169.5 207.1h.9v.9h-.9zM167.5 207.5h.9v.9h-.9zM156.2 203.1h.9v.9h-.9zM150.0 203.7h.9v.9h-.9zM172.1 198.3h.9v.9h-.9zM154.9 200.2h.9v.9h-.9zM159.9 197.7h.9v.9h-.9zM168.0 202.0h.9v.9h-.9zM161.7 208.9h.9v.9h-.9zM158.8 203.5h.9v.9h-.9zM153.1 198.2h.9v.9h-.9zM159.8 201.1h.9v.9h-.9zM135.2 192.8h.9v.9h-.9zM128.4 191.1h.9v.9h-.9zM149.6 203.0h.9v.9h-.9zM129.8 193.1h.9v.9h-.9zM158.2 181.2h.9v.9h-.9zM159.0 211.1h.9v.9h-.9zM155.0 189.2h.9v.9h-.9zM142.8 207.4h.9v.9h-.9zM173.7 183.2h.9v.9h-.9zM156.2 181.8h.9v.9h-.9zM130.6 208.2h.9v.9h-.9zM168.4 207.6h.9v.9h-.9zM162.7 176.0h.9v.9h-.9zM130.9 202.3h.9v.9h-.9zM137.8 188.0h.9v.9h-.9zM158.9 200.1h.9v.9h-.9zM156.3 208.6h.9v.9h-.9zM169.9 180.1h.9v.9h-.9zM132.0 202.8h.9v.9h-.9zM167.7 187.7h.9v.9h-.9zM165.7 182.6h.9v.9h-.9zM128.3 181.4h.9v.9h-.9zM151.0 194.6h.9v.9h-.9z" fill="#000" fill-opacity="0.1"/>
<path d="M137.4 203.3h.9v.9h-.9zM140.0 203.6h.9v.9h-.9zM142.4 201.4h.9v.9h-.9zM136.6 201.6h.9v.9h-.9zM138.4 205.0h.9v.9h-.9zM144.2 203.7h.9v.9h-.9zM143.3 202.4h.9v.9h-.9zM136.2 206.9h.9v.9h-.9zM132.8 200.2h.9v.9h-.9zM138.4 197.6h.9v.9h-.9zM131.4 207.3h.9v.9h-.9zM141.8 206.5h.9v.9h-.9zM137.9 197.2h.9v.9h-.9zM136.1 201.3h.9v.9h-.9zM140.6 203.7h.9v.9h-.9zM140.4 194.9h.9v.9h-.9zM140.5 201.9h.9v.9h-.9zM145.0 200.6h.9v.9h-.9zM138.0 200.4h.9v.9h-.9zM134.1 206.2h.9v.9h-.9zM142.2 198.8h.9v.9h-.9zM140.2 206.5h.9v.9h-.9zM137.3 213.2h.9v.9h-.9zM143.6 204.2h.9v.9h-.9zM143.0 196.4h.9v.9h-.9zM142.4 203.5h.9v.9h-.9zM132.7 199.3h.9v.9h-.9zM143.0 211.5h.9v.9h-.9zM142.6 206.3h.9v.9h-.9zM136.9 205.5h.9v.9h-.9zM144.7 195.9h.9v.9h-.9zM139.5 199.7h.9v.9h-.9zM133.2 205.2h.9v.9h-.9zM143.7 211.5h.9v.9h-.9zM131.1 198.0h.9v.9h-.9zM136.7 197.6h.9v.9h-.9zM135.8 203.7h.9v.9h-.9zM141.7 192.7h.9v.9h-.9zM143.9 186.2h.9v.9h-.9zM140.0 182.0h.9v.9h-.9zM143.0 192.2h.9v.9h-.9zM134.6 180.8h.9v.9h-.9zM142.2 191.0h.9v.9h-.9zM143.5 186.5h.9v.9h-.9zM145.3 182.5h.9v.9h-.9zM138.5 193.5h.9v.9h-.9zM140.5 186.3h.9v.9h-.9zM134.9 185.8h.9v.9h-.9zM153.6 202.7h.9v.9h-.9zM166.8 202.1h.9v.9h-.9zM158.3 212.3h.9v.9h-.9zM171.0 203.8h.9v.9h-.9zM169.4 200.7h.9v.9h-.9zM171.6 204.6h.9v.9h-.9zM166.4 199.7h.9v.9h-.9zM148.8 197.8h.9v.9h-.9zM152.5 205.1h.9v.9h-.9zM165.2 211.0h.9v.9h-.9zM152.4 199.0h.9v.9h-.9zM168.3 201.3h.9v.9h-.9zM165.1 204.0h.9v.9h-.9zM161.2 201.2h.9v.9h-.9zM171.9 203.0h.9v.9h-.9zM166.3 205.1h.9v.9h-.9zM157.8 199.0h.9v.9h-.9zM161.7 202.9h.9v.9h-.9zM162.4 211.1h.9v.9h-.9zM172.3 205.8h.9v.9h-.9zM156.4 204.4h.9v.9h-.9zM168.9 205.9h.9v.9h-.9zM149.0 206.0h.9v.9h-.9zM157.3 213.5h.9v.9h-.9zM150.9 201.6h.9v.9h-.9zM158.0 200.7h.9v.9h-.9zM151.3 202.1h.9v.9h-.9zM155.0 198.9h.9v.9h-.9z" fill="#000" fill-opacity="0.3"/>
<path d="M140.0 207.3h.9v.9h-.9zM139.1 205.0h.9v.9h-.9zM139.3 204.7h.9v.9h-.9zM146.7 197.0h.9v.9h-.9zM146.8 204.0h.9v.9h-.9zM137.4 208.8h.9v.9h-.9zM147.1 207.6h.9v.9h-.9zM139.0 198.2h.9v.9h-.9zM138.3 204.3h.9v.9h-.9zM142.4 201.2h.9v.9h-.9zM149.9 202.6h.9v.9h-.9zM140.0 208.3h.9v.9h-.9zM137.9 198.2h.9v.9h-.9zM135.7 203.5h.9v.9h-.9zM137.3 206.2h.9v.9h-.9zM136.0 203.6h.9v.9h-.9zM144.0 198.7h.9v.9h-.9zM138.1 203.3h.9v.9h-.9zM142.4 192.8h.9v.9h-.9zM140.3 209.3h.9v.9h-.9zM144.8 196.7h.9v.9h-.9zM138.1 204.3h.9v.9h-.9zM142.3 191.5h.9v.9h-.9zM147.5 202.6h.9v.9h-.9zM140.2 205.3h.9v.9h-.9zM138.9 196.4h.9v.9h-.9zM136.6 202.1h.9v.9h-.9zM154.0 207.1h.9v.9h-.9zM144.5 207.5h.9v.9h-.9zM137.2 196.4h.9v.9h-.9zM134.3 203.0h.9v.9h-.9zM142.4 178.2h.9v.9h-.9zM140.8 185.5h.9v.9h-.9zM139.3 185.0h.9v.9h-.9zM142.4 192.4h.9v.9h-.9zM136.8 189.8h.9v.9h-.9zM143.6 186.7h.9v.9h-.9zM139.9 193.9h.9v.9h-.9zM140.7 181.7h.9v.9h-.9zM146.3 181.9h.9v.9h-.9zM143.8 191.8h.9v.9h-.9zM141.0 187.3h.9v.9h-.9zM140.8 175.6h.9v.9h-.9zM142.0 188.4h.9v.9h-.9zM137.9 186.8h.9v.9h-.9zM137.5 188.6h.9v.9h-.9zM143.1 188.8h.9v.9h-.9zM165.7 202.2h.9v.9h-.9zM167.7 204.4h.9v.9h-.9zM152.9 204.0h.9v.9h-.9zM168.8 204.5h.9v.9h-.9zM164.2 204.9h.9v.9h-.9zM154.1 202.6h.9v.9h-.9zM162.0 198.0h.9v.9h-.9zM173.5 201.6h.9v.9h-.9zM149.7 207.8h.9v.9h-.9zM164.5 204.4h.9v.9h-.9zM163.7 204.8h.9v.9h-.9zM149.2 200.7h.9v.9h-.9zM150.3 202.8h.9v.9h-.9zM169.0 203.4h.9v.9h-.9zM162.4 199.9h.9v.9h-.9zM163.8 199.6h.9v.9h-.9zM172.3 203.3h.9v.9h-.9zM173.6 203.3h.9v.9h-.9zM163.9 200.2h.9v.9h-.9zM161.2 203.9h.9v.9h-.9zM150.4 198.1h.9v.9h-.9zM162.3 200.3h.9v.9h-.9zM152.3 202.5h.9v.9h-.9zM170.0 202.9h.9v.9h-.9zM149.0 205.0h.9v.9h-.9zM160.4 212.8h.9v.9h-.9zM155.6 203.8h.9v.9h-.9zM153.8 202.6h.9v.9h-.9zM155.1 203.6h.9v.9h-.9zM171.7 203.8h.9v.9h-.9zM154.8 203.9h.9v.9h-.9zM155.8 201.1h.9v.9h-.9zM153.3 202.4h.9v.9h-.9zM167.8 202.4h.9v.9h-.9zM164.9 203.9h.9v.9h-.9zM166.7 199.6h.9v.9h-.9z" fill="#000" fill-opacity="0.2"/>
<rect x="127.50" y="166.50" width="49.00" height="50.00" fill="none" stroke="#747474" stroke-width="1"/>
<line x1="147.50" y1="166.20" x2="147.50" y2="216.30" stroke="#666" stroke-width="1"/>
<line x1="127.10" y1="195.50" x2="176.20" y2="195.50" stroke="#666" stroke-width="1"/>
<text transform="translate(129.48,172.95) scale(0.96,1)" font-size="6.69" fill="#1a1a1a">6.5</text>
<text transform="translate(165.89,172.95) scale(0.96,1)" font-size="6.69" fill="#1a1a1a">0.7</text>
<text transform="translate(129.48,215.45) scale(0.96,1)" font-size="6.69" fill="#1a1a1a">79.6</text>
<text transform="translate(163.08,215.45) scale(0.96,1)" font-size="6.69" fill="#1a1a1a">13.3</text>
<text transform="translate(141.85,224.60) scale(0.982,1)" font-size="6.69" fill="#1a1a1a">40 μg / mL</text>
<text transform="translate(141.92,232.90) scale(0.988,1)" font-size="6.69" fill="#1a1a1a">anti-IL1β</text>
<ellipse cx="33.4" cy="258.7" rx="5.2" ry="9" fill="url(#trail)" opacity="0.95"/>
<ellipse cx="52.1" cy="274.7" rx="15" ry="6.5" fill="url(#lr)" opacity="1.00"/>
<ellipse cx="31.9" cy="273.7" rx="11.5" ry="10.5" fill="url(#halo)"/>
<g transform="rotate(-40 31.9 273.2)">
<ellipse cx="31.9" cy="273.2" rx="7.0" ry="5.6" fill="url(#core)"/>
<ellipse cx="34.1" cy="272.6" rx="3.6" ry="3.2" fill="url(#core)" opacity="0.8"/>
<ellipse cx="29.5" cy="273.8" rx="3.6" ry="3.2" fill="url(#core)" opacity="0.7"/>
</g>
<path d="M31.1 283.3h.9v.9h-.9zM21.4 273.5h.9v.9h-.9zM30.7 274.5h.9v.9h-.9zM35.6 266.7h.9v.9h-.9zM41.8 270.0h.9v.9h-.9zM36.6 265.9h.9v.9h-.9zM36.9 283.3h.9v.9h-.9zM32.3 272.1h.9v.9h-.9zM25.8 268.9h.9v.9h-.9zM35.7 270.6h.9v.9h-.9zM34.5 280.8h.9v.9h-.9zM37.7 275.6h.9v.9h-.9zM40.3 273.6h.9v.9h-.9zM29.7 272.0h.9v.9h-.9zM30.7 277.9h.9v.9h-.9zM28.7 275.7h.9v.9h-.9zM22.4 276.8h.9v.9h-.9zM31.3 265.9h.9v.9h-.9zM32.2 265.2h.9v.9h-.9zM29.0 273.4h.9v.9h-.9zM28.6 272.0h.9v.9h-.9zM24.1 274.1h.9v.9h-.9zM32.5 279.2h.9v.9h-.9zM35.0 263.6h.9v.9h-.9zM26.7 276.3h.9v.9h-.9zM29.3 275.8h.9v.9h-.9zM36.0 273.4h.9v.9h-.9zM33.3 265.2h.9v.9h-.9zM34.2 273.3h.9v.9h-.9zM34.6 271.4h.9v.9h-.9zM22.3 272.0h.9v.9h-.9zM31.7 276.0h.9v.9h-.9zM32.1 281.2h.9v.9h-.9zM29.8 269.1h.9v.9h-.9zM35.7 276.5h.9v.9h-.9zM31.0 265.5h.9v.9h-.9zM28.8 283.8h.9v.9h-.9zM25.9 263.6h.9v.9h-.9zM34.7 277.1h.9v.9h-.9zM44.6 266.4h.9v.9h-.9zM33.7 273.8h.9v.9h-.9zM29.1 277.6h.9v.9h-.9zM27.8 274.5h.9v.9h-.9zM39.7 276.2h.9v.9h-.9zM30.9 269.6h.9v.9h-.9zM42.4 270.8h.9v.9h-.9zM29.3 276.4h.9v.9h-.9zM35.1 276.9h.9v.9h-.9zM29.3 271.4h.9v.9h-.9zM35.8 274.5h.9v.9h-.9zM31.7 267.7h.9v.9h-.9zM29.8 272.8h.9v.9h-.9zM36.0 248.6h.9v.9h-.9zM32.5 261.3h.9v.9h-.9zM29.2 253.8h.9v.9h-.9zM37.1 261.4h.9v.9h-.9zM36.2 258.5h.9v.9h-.9zM35.0 262.8h.9v.9h-.9zM35.1 260.7h.9v.9h-.9zM34.4 258.5h.9v.9h-.9zM36.6 258.1h.9v.9h-.9zM28.6 254.1h.9v.9h-.9zM35.5 258.0h.9v.9h-.9zM36.3 260.0h.9v.9h-.9zM35.0 257.4h.9v.9h-.9zM35.2 258.7h.9v.9h-.9zM35.9 264.7h.9v.9h-.9zM53.1 272.4h.9v.9h-.9zM41.4 271.1h.9v.9h-.9zM57.1 271.2h.9v.9h-.9zM45.6 276.7h.9v.9h-.9zM59.5 273.1h.9v.9h-.9zM56.9 275.7h.9v.9h-.9zM62.1 279.7h.9v.9h-.9zM64.9 272.1h.9v.9h-.9zM54.2 275.0h.9v.9h-.9zM45.8 277.7h.9v.9h-.9zM61.5 276.9h.9v.9h-.9zM64.7 275.6h.9v.9h-.9zM41.2 279.7h.9v.9h-.9zM55.6 278.6h.9v.9h-.9zM51.8 268.0h.9v.9h-.9zM46.9 272.2h.9v.9h-.9zM63.8 270.2h.9v.9h-.9zM51.8 278.3h.9v.9h-.9zM46.4 272.1h.9v.9h-.9zM50.6 277.8h.9v.9h-.9zM55.3 279.7h.9v.9h-.9zM60.8 274.8h.9v.9h-.9zM47.7 268.5h.9v.9h-.9z" fill="#000" fill-opacity="0.2"/>
<path d="M32.1 272.1h.9v.9h-.9zM34.1 275.7h.9v.9h-.9zM23.3 279.1h.9v.9h-.9zM31.3 268.8h.9v.9h-.9zM36.3 278.1h.9v.9h-.9zM27.5 265.6h.9v.9h-.9zM30.2 280.2h.9v.9h-.9zM32.5 274.3h.9v.9h-.9zM32.1 278.7h.9v.9h-.9zM26.5 276.2h.9v.9h-.9zM31.5 267.8h.9v.9h-.9zM34.9 273.6h.9v.9h-.9zM41.3 266.5h.9v.9h-.9zM34.4 269.1h.9v.9h-.9zM38.9 276.0h.9v.9h-.9zM44.5 275.8h.9v.9h-.9zM27.2 275.2h.9v.9h-.9zM31.4 263.6h.9v.9h-.9zM24.8 273.5h.9v.9h-.9zM35.9 275.0h.9v.9h-.9zM30.3 268.6h.9v.9h-.9zM32.8 272.7h.9v.9h-.9zM38.7 274.6h.9v.9h-.9zM32.2 280.3h.9v.9h-.9zM35.1 278.8h.9v.9h-.9zM26.0 279.1h.9v.9h-.9zM31.6 277.5h.9v.9h-.9zM24.1 272.0h.9v.9h-.9zM36.0 268.8h.9v.9h-.9zM36.2 276.5h.9v.9h-.9zM35.5 264.7h.9v.9h-.9zM35.5 278.0h.9v.9h-.9zM29.1 274.4h.9v.9h-.9zM27.7 279.8h.9v.9h-.9zM26.7 276.4h.9v.9h-.9zM32.5 255.3h.9v.9h-.9zM30.8 257.9h.9v.9h-.9zM29.0 260.3h.9v.9h-.9zM37.4 258.6h.9v.9h-.9zM34.1 256.5h.9v.9h-.9zM31.7 256.2h.9v.9h-.9zM27.2 255.3h.9v.9h-.9zM34.7 255.4h.9v.9h-.9zM30.8 249.8h.9v.9h-.9zM35.7 254.2h.9v.9h-.9zM27.5 253.5h.9v.9h-.9zM32.5 257.2h.9v.9h-.9zM26.0 256.0h.9v.9h-.9zM32.2 263.9h.9v.9h-.9zM35.1 256.8h.9v.9h-.9zM34.1 259.5h.9v.9h-.9zM34.2 260.0h.9v.9h-.9zM31.8 259.7h.9v.9h-.9zM31.4 260.1h.9v.9h-.9zM35.3 259.1h.9v.9h-.9zM56.7 274.5h.9v.9h-.9zM41.8 273.5h.9v.9h-.9zM52.4 270.1h.9v.9h-.9zM44.6 276.4h.9v.9h-.9zM60.2 271.7h.9v.9h-.9zM60.1 272.2h.9v.9h-.9zM56.9 279.2h.9v.9h-.9zM57.3 274.3h.9v.9h-.9zM59.8 272.1h.9v.9h-.9zM58.0 276.7h.9v.9h-.9zM48.3 269.7h.9v.9h-.9z" fill="#000" fill-opacity="0.3"/>
<path d="M28.4 260.3h.9v.9h-.9zM38.9 271.3h.9v.9h-.9zM35.6 274.8h.9v.9h-.9zM39.1 274.2h.9v.9h-.9zM32.7 269.1h.9v.9h-.9zM34.8 277.6h.9v.9h-.9zM34.2 267.0h.9v.9h-.9zM39.1 263.5h.9v.9h-.9zM30.9 279.8h.9v.9h-.9zM35.4 276.3h.9v.9h-.9zM33.7 267.4h.9v.9h-.9zM36.6 273.1h.9v.9h-.9zM37.9 274.6h.9v.9h-.9zM38.4 269.7h.9v.9h-.9zM29.4 270.5h.9v.9h-.9zM34.6 275.9h.9v.9h-.9zM31.6 273.9h.9v.9h-.9zM25.6 272.7h.9v.9h-.9zM26.1 276.2h.9v.9h-.9zM34.8 280.0h.9v.9h-.9zM45.8 273.9h.9v.9h-.9zM41.3 278.8h.9v.9h-.9zM28.3 271.5h.9v.9h-.9zM32.1 278.0h.9v.9h-.9zM30.0 277.3h.9v.9h-.9zM31.9 274.5h.9v.9h-.9zM30.1 276.2h.9v.9h-.9zM30.6 274.4h.9v.9h-.9zM27.4 277.3h.9v.9h-.9zM30.5 259.5h.9v.9h-.9zM37.0 254.8h.9v.9h-.9zM32.0 263.7h.9v.9h-.9zM38.4 259.4h.9v.9h-.9zM32.1 257.9h.9v.9h-.9zM34.9 262.4h.9v.9h-.9zM38.1 255.6h.9v.9h-.9zM33.8 256.5h.9v.9h-.9zM31.8 264.3h.9v.9h-.9zM29.0 256.8h.9v.9h-.9z" fill="#000" fill-opacity="0.4"/>
<path d="M35.0 269.9h.9v.9h-.9zM30.2 273.9h.9v.9h-.9zM30.5 279.3h.9v.9h-.9zM41.3 269.4h.9v.9h-.9zM25.7 272.2h.9v.9h-.9zM33.8 283.5h.9v.9h-.9zM27.3 273.6h.9v.9h-.9zM33.9 268.5h.9v.9h-.9zM35.4 273.7h.9v.9h-.9zM39.0 276.7h.9v.9h-.9zM30.5 274.1h.9v.9h-.9zM35.1 274.2h.9v.9h-.9zM33.8 256.8h.9v.9h-.9zM34.8 262.5h.9v.9h-.9zM32.3 264.0h.9v.9h-.9zM33.0 252.5h.9v.9h-.9zM61.6 275.8h.9v.9h-.9zM54.8 269.7h.9v.9h-.9zM42.7 276.5h.9v.9h-.9zM63.6 277.7h.9v.9h-.9zM58.3 279.9h.9v.9h-.9zM52.0 271.7h.9v.9h-.9zM47.9 277.2h.9v.9h-.9zM64.6 273.3h.9v.9h-.9zM63.4 274.5h.9v.9h-.9zM51.8 268.7h.9v.9h-.9zM61.1 272.2h.9v.9h-.9zM53.1 271.5h.9v.9h-.9zM64.1 270.8h.9v.9h-.9zM50.5 269.8h.9v.9h-.9zM62.1 271.9h.9v.9h-.9zM61.6 279.5h.9v.9h-.9zM55.4 274.9h.9v.9h-.9zM47.8 275.5h.9v.9h-.9zM60.3 277.7h.9v.9h-.9zM44.1 278.1h.9v.9h-.9zM42.4 271.7h.9v.9h-.9zM22.6 271.9h.9v.9h-.9zM50.5 252.9h.9v.9h-.9zM62.9 263.9h.9v.9h-.9zM48.1 281.0h.9v.9h-.9zM51.0 260.7h.9v.9h-.9zM42.8 257.7h.9v.9h-.9zM42.7 249.3h.9v.9h-.9zM54.9 264.5h.9v.9h-.9zM29.2 258.8h.9v.9h-.9zM28.3 254.3h.9v.9h-.9zM64.3 243.1h.9v.9h-.9zM24.6 279.0h.9v.9h-.9zM59.9 252.8h.9v.9h-.9zM24.8 267.1h.9v.9h-.9zM51.2 262.8h.9v.9h-.9zM50.3 270.9h.9v.9h-.9zM62.5 278.6h.9v.9h-.9zM63.0 254.0h.9v.9h-.9zM40.2 280.5h.9v.9h-.9zM25.3 272.8h.9v.9h-.9zM41.6 268.1h.9v.9h-.9zM39.9 274.6h.9v.9h-.9zM56.6 277.3h.9v.9h-.9zM29.0 265.2h.9v.9h-.9zM34.0 238.2h.9v.9h-.9z" fill="#000" fill-opacity="0.1"/>
<rect x="19.50" y="237.50" width="49.00" height="49.00" fill="none" stroke="#747474" stroke-width="1"/>
<line x1="40.50" y1="237.20" x2="40.50" y2="286.30" stroke="#666" stroke-width="1"/>
<line x1="19.30" y1="265.50" x2="68.50" y2="265.50" stroke="#666" stroke-width="1"/>
<text transform="translate(21.52,243.95) scale(0.96,1)" font-size="6.69" fill="#1a1a1a">11.8</text>
<text transform="translate(58.14,243.95) scale(0.96,1)" font-size="6.69" fill="#1a1a1a">0.3</text>
<text transform="translate(21.73,285.45) scale(0.96,1)" font-size="6.69" fill="#1a1a1a">81.0</text>
<text transform="translate(58.96,285.45) scale(0.96,1)" font-size="6.69" fill="#1a1a1a">6.9</text>
<text transform="translate(33.09,297.50) scale(0.935,1)" font-size="6.69" fill="#1a1a1a">CTRL-IgG</text>
<ellipse cx="88.8" cy="258.7" rx="4.7" ry="9" fill="url(#trail)" opacity="0.85"/>
<ellipse cx="105.5" cy="273.3" rx="15" ry="6.5" fill="url(#lr)" opacity="1.00"/>
<ellipse cx="87.3" cy="272.3" rx="11.5" ry="10.5" fill="url(#halo)"/>
<g transform="rotate(-40 87.3 271.8)">
<ellipse cx="87.3" cy="271.8" rx="7.0" ry="5.6" fill="url(#core)"/>
<ellipse cx="89.5" cy="271.2" rx="3.6" ry="3.2" fill="url(#core)" opacity="0.8"/>
<ellipse cx="84.9" cy="272.4" rx="3.6" ry="3.2" fill="url(#core)" opacity="0.7"/>
</g>
<path d="M92.4 272.2h.9v.9h-.9zM90.2 277.2h.9v.9h-.9zM84.7 270.5h.9v.9h-.9zM89.3 268.9h.9v.9h-.9zM93.2 269.2h.9v.9h-.9zM82.0 266.1h.9v.9h-.9zM85.2 271.2h.9v.9h-.9zM84.3 275.6h.9v.9h-.9zM83.8 276.5h.9v.9h-.9zM94.8 268.8h.9v.9h-.9zM85.2 272.5h.9v.9h-.9zM91.3 269.7h.9v.9h-.9zM90.2 276.4h.9v.9h-.9zM88.3 267.6h.9v.9h-.9zM85.0 271.2h.9v.9h-.9zM86.2 271.1h.9v.9h-.9zM94.3 280.6h.9v.9h-.9zM82.2 273.6h.9v.9h-.9zM87.8 267.1h.9v.9h-.9zM84.2 275.5h.9v.9h-.9zM85.2 274.6h.9v.9h-.9zM88.3 270.2h.9v.9h-.9zM83.2 277.7h.9v.9h-.9zM83.7 273.3h.9v.9h-.9zM91.2 271.9h.9v.9h-.9zM84.6 275.9h.9v.9h-.9zM98.6 273.8h.9v.9h-.9zM81.8 274.2h.9v.9h-.9zM90.4 274.9h.9v.9h-.9zM88.6 276.7h.9v.9h-.9zM84.3 280.4h.9v.9h-.9zM96.9 269.1h.9v.9h-.9zM84.1 282.1h.9v.9h-.9zM79.4 276.3h.9v.9h-.9zM92.4 279.0h.9v.9h-.9zM86.0 273.8h.9v.9h-.9zM84.7 275.0h.9v.9h-.9zM90.8 265.3h.9v.9h-.9zM86.6 277.6h.9v.9h-.9zM88.2 270.3h.9v.9h-.9zM93.5 266.3h.9v.9h-.9zM83.7 280.1h.9v.9h-.9zM85.4 255.8h.9v.9h-.9zM91.0 254.0h.9v.9h-.9zM86.6 249.5h.9v.9h-.9zM92.5 259.5h.9v.9h-.9zM87.7 255.4h.9v.9h-.9zM92.6 261.9h.9v.9h-.9zM89.8 255.8h.9v.9h-.9zM90.9 259.4h.9v.9h-.9zM91.4 253.5h.9v.9h-.9zM86.8 249.0h.9v.9h-.9zM92.2 265.2h.9v.9h-.9zM87.8 258.3h.9v.9h-.9zM91.3 260.8h.9v.9h-.9zM92.2 264.9h.9v.9h-.9zM91.1 258.9h.9v.9h-.9zM116.2 277.3h.9v.9h-.9zM109.6 271.4h.9v.9h-.9zM98.3 268.3h.9v.9h-.9zM114.6 280.0h.9v.9h-.9zM99.1 272.1h.9v.9h-.9zM113.4 267.4h.9v.9h-.9zM116.0 276.1h.9v.9h-.9zM102.4 269.2h.9v.9h-.9zM105.6 267.4h.9v.9h-.9zM113.7 271.4h.9v.9h-.9zM101.8 273.8h.9v.9h-.9zM116.4 275.2h.9v.9h-.9zM119.0 271.2h.9v.9h-.9zM105.4 282.4h.9v.9h-.9zM103.9 273.1h.9v.9h-.9zM116.0 273.1h.9v.9h-.9z" fill="#000" fill-opacity="0.2"/>
<path d="M82.6 276.8h.9v.9h-.9zM86.4 270.0h.9v.9h-.9zM90.4 267.8h.9v.9h-.9zM88.2 276.4h.9v.9h-.9zM94.2 275.5h.9v.9h-.9zM79.1 274.1h.9v.9h-.9zM82.8 273.4h.9v.9h-.9zM82.8 269.7h.9v.9h-.9zM84.3 269.0h.9v.9h-.9zM89.7 279.2h.9v.9h-.9zM89.5 269.8h.9v.9h-.9zM85.3 275.8h.9v.9h-.9zM80.9 272.7h.9v.9h-.9zM85.7 279.5h.9v.9h-.9zM80.1 272.1h.9v.9h-.9zM79.1 274.0h.9v.9h-.9zM89.8 282.4h.9v.9h-.9zM77.5 276.9h.9v.9h-.9zM89.9 255.9h.9v.9h-.9zM85.5 259.4h.9v.9h-.9zM89.4 255.4h.9v.9h-.9zM82.8 252.5h.9v.9h-.9zM91.6 259.1h.9v.9h-.9zM86.6 262.2h.9v.9h-.9zM85.2 255.6h.9v.9h-.9zM88.5 261.2h.9v.9h-.9zM85.6 265.2h.9v.9h-.9zM86.0 252.6h.9v.9h-.9zM117.1 272.4h.9v.9h-.9zM113.2 276.3h.9v.9h-.9zM106.4 272.9h.9v.9h-.9zM107.6 269.5h.9v.9h-.9zM113.1 273.8h.9v.9h-.9zM104.0 270.4h.9v.9h-.9zM108.3 267.7h.9v.9h-.9zM115.5 276.4h.9v.9h-.9zM115.8 273.6h.9v.9h-.9zM108.5 271.4h.9v.9h-.9zM104.2 280.3h.9v.9h-.9zM109.1 281.7h.9v.9h-.9zM99.3 270.6h.9v.9h-.9zM119.5 268.6h.9v.9h-.9zM99.0 271.5h.9v.9h-.9zM113.0 272.2h.9v.9h-.9zM98.8 275.1h.9v.9h-.9zM114.1 273.8h.9v.9h-.9zM110.5 276.9h.9v.9h-.9zM103.2 274.3h.9v.9h-.9zM114.6 268.3h.9v.9h-.9zM100.1 273.9h.9v.9h-.9zM97.3 269.1h.9v.9h-.9zM112.5 273.3h.9v.9h-.9zM87.8 261.0h.9v.9h-.9zM118.6 253.8h.9v.9h-.9zM117.8 262.2h.9v.9h-.9zM96.1 283.9h.9v.9h-.9zM88.5 241.6h.9v.9h-.9zM88.0 241.9h.9v.9h-.9zM109.3 255.3h.9v.9h-.9zM117.3 269.2h.9v.9h-.9zM101.3 242.1h.9v.9h-.9zM86.0 275.5h.9v.9h-.9zM95.6 270.7h.9v.9h-.9zM100.6 268.6h.9v.9h-.9zM77.5 247.3h.9v.9h-.9zM102.4 258.9h.9v.9h-.9zM77.5 278.3h.9v.9h-.9zM85.4 268.5h.9v.9h-.9zM109.4 252.4h.9v.9h-.9zM101.8 250.0h.9v.9h-.9zM116.4 274.6h.9v.9h-.9zM94.6 241.3h.9v.9h-.9zM87.2 262.6h.9v.9h-.9zM108.4 274.8h.9v.9h-.9zM96.5 257.4h.9v.9h-.9zM114.9 238.5h.9v.9h-.9zM89.4 239.7h.9v.9h-.9z" fill="#000" fill-opacity="0.1"/>
<path d="M94.4 268.3h.9v.9h-.9zM80.2 274.7h.9v.9h-.9zM91.8 270.8h.9v.9h-.9zM88.8 271.7h.9v.9h-.9zM81.9 278.0h.9v.9h-.9zM100.3 271.9h.9v.9h-.9zM88.0 270.3h.9v.9h-.9zM84.9 272.1h.9v.9h-.9zM95.0 269.6h.9v.9h-.9zM83.8 271.6h.9v.9h-.9zM84.0 278.9h.9v.9h-.9zM81.5 266.6h.9v.9h-.9zM77.2 271.0h.9v.9h-.9zM82.8 272.4h.9v.9h-.9zM86.6 275.5h.9v.9h-.9zM92.2 279.0h.9v.9h-.9zM86.6 275.7h.9v.9h-.9zM83.3 277.4h.9v.9h-.9zM88.3 270.9h.9v.9h-.9zM96.2 267.8h.9v.9h-.9zM92.5 269.5h.9v.9h-.9zM84.1 278.9h.9v.9h-.9zM90.5 270.9h.9v.9h-.9zM94.2 272.8h.9v.9h-.9zM88.6 274.2h.9v.9h-.9zM93.9 273.9h.9v.9h-.9zM84.3 268.1h.9v.9h-.9zM78.5 271.8h.9v.9h-.9zM87.3 276.4h.9v.9h-.9zM88.6 266.1h.9v.9h-.9zM91.4 251.6h.9v.9h-.9zM86.9 257.0h.9v.9h-.9zM90.0 252.2h.9v.9h-.9zM87.9 252.2h.9v.9h-.9zM89.9 264.3h.9v.9h-.9zM88.4 253.3h.9v.9h-.9zM85.0 255.2h.9v.9h-.9zM89.8 261.4h.9v.9h-.9zM92.7 258.1h.9v.9h-.9zM89.1 261.5h.9v.9h-.9zM90.9 258.3h.9v.9h-.9zM88.6 259.5h.9v.9h-.9zM92.1 260.6h.9v.9h-.9zM93.0 253.6h.9v.9h-.9zM95.8 271.2h.9v.9h-.9zM109.6 276.7h.9v.9h-.9zM116.0 274.7h.9v.9h-.9zM101.2 271.0h.9v.9h-.9zM98.8 270.9h.9v.9h-.9zM96.7 273.3h.9v.9h-.9zM115.7 276.5h.9v.9h-.9zM120.0 275.5h.9v.9h-.9zM116.4 271.4h.9v.9h-.9zM109.8 275.9h.9v.9h-.9zM117.7 267.8h.9v.9h-.9zM101.8 276.3h.9v.9h-.9zM108.2 273.0h.9v.9h-.9zM100.7 275.0h.9v.9h-.9zM116.4 270.8h.9v.9h-.9zM103.1 273.9h.9v.9h-.9zM116.5 268.8h.9v.9h-.9zM96.7 274.9h.9v.9h-.9z" fill="#000" fill-opacity="0.3"/>
<path d="M85.3 272.3h.9v.9h-.9zM87.6 276.9h.9v.9h-.9zM97.1 276.1h.9v.9h-.9zM83.4 272.1h.9v.9h-.9zM86.9 272.3h.9v.9h-.9zM91.8 272.4h.9v.9h-.9zM82.8 279.0h.9v.9h-.9zM86.6 280.5h.9v.9h-.9zM90.6 274.8h.9v.9h-.9zM86.0 278.6h.9v.9h-.9zM78.0 268.1h.9v.9h-.9zM81.6 273.6h.9v.9h-.9zM92.9 276.9h.9v.9h-.9zM94.8 273.1h.9v.9h-.9zM80.4 263.7h.9v.9h-.9zM87.2 274.6h.9v.9h-.9zM82.4 272.3h.9v.9h-.9zM82.4 274.8h.9v.9h-.9zM93.7 270.3h.9v.9h-.9zM84.5 274.3h.9v.9h-.9zM85.5 271.7h.9v.9h-.9zM85.5 267.0h.9v.9h-.9zM93.0 276.2h.9v.9h-.9zM89.3 273.4h.9v.9h-.9zM86.3 269.4h.9v.9h-.9zM92.4 267.4h.9v.9h-.9zM83.4 272.0h.9v.9h-.9zM88.6 268.2h.9v.9h-.9zM89.9 268.3h.9v.9h-.9zM89.8 269.9h.9v.9h-.9zM83.8 271.7h.9v.9h-.9zM84.6 271.7h.9v.9h-.9zM86.8 274.8h.9v.9h-.9zM79.8 269.9h.9v.9h-.9zM89.1 272.9h.9v.9h-.9zM83.5 269.3h.9v.9h-.9zM84.0 255.2h.9v.9h-.9zM87.3 259.4h.9v.9h-.9zM88.1 276.9h.9v.9h-.9zM84.7 263.3h.9v.9h-.9zM86.7 257.0h.9v.9h-.9zM91.7 251.9h.9v.9h-.9zM90.1 263.4h.9v.9h-.9z" fill="#000" fill-opacity="0.4"/>
<rect x="73.50" y="237.50" width="49.00" height="49.00" fill="none" stroke="#747474" stroke-width="1"/>
<line x1="93.50" y1="237.20" x2="93.50" y2="286.30" stroke="#666" stroke-width="1"/>
<line x1="73.30" y1="265.50" x2="122.10" y2="265.50" stroke="#666" stroke-width="1"/>
<text transform="translate(75.52,243.95) scale(0.96,1)" font-size="6.69" fill="#1a1a1a">10.3</text>
<text transform="translate(111.65,243.95) scale(0.96,1)" font-size="6.69" fill="#1a1a1a">0.4</text>
<text transform="translate(75.73,285.45) scale(0.96,1)" font-size="6.69" fill="#1a1a1a">82.0</text>
<text transform="translate(112.54,285.45) scale(0.96,1)" font-size="6.69" fill="#1a1a1a">7.3</text>
<text transform="translate(87.47,296.00) scale(0.974,1)" font-size="6.69" fill="#1a1a1a">20 μg / mL</text>
<text transform="translate(87.11,304.30) scale(1.006,1)" font-size="6.69" fill="#1a1a1a">anti-TNFα</text>
<ellipse cx="141.3" cy="258.7" rx="4.7" ry="9" fill="url(#trail)" opacity="0.85"/>
<ellipse cx="159.4" cy="274.7" rx="15" ry="6.5" fill="url(#lr)" opacity="1.00"/>
<ellipse cx="139.8" cy="273.7" rx="11.5" ry="10.5" fill="url(#halo)"/>
<g transform="rotate(-40 139.8 273.2)">
<ellipse cx="139.8" cy="273.2" rx="7.0" ry="5.6" fill="url(#core)"/>
<ellipse cx="142.0" cy="272.6" rx="3.6" ry="3.2" fill="url(#core)" opacity="0.8"/>
<ellipse cx="137.4" cy="273.8" rx="3.6" ry="3.2" fill="url(#core)" opacity="0.7"/>
</g>
<path d="M141.6 268.8h.9v.9h-.9zM137.6 271.8h.9v.9h-.9zM135.0 280.6h.9v.9h-.9zM132.9 270.7h.9v.9h-.9zM137.9 270.3h.9v.9h-.9zM138.4 265.0h.9v.9h-.9zM137.4 273.2h.9v.9h-.9zM136.5 273.4h.9v.9h-.9zM135.3 269.1h.9v.9h-.9zM140.4 278.7h.9v.9h-.9zM131.4 276.5h.9v.9h-.9zM136.1 279.6h.9v.9h-.9zM145.1 274.9h.9v.9h-.9zM141.3 279.9h.9v.9h-.9zM140.3 269.5h.9v.9h-.9zM142.0 274.5h.9v.9h-.9zM135.5 270.9h.9v.9h-.9zM138.2 278.8h.9v.9h-.9zM138.6 272.3h.9v.9h-.9zM139.7 272.4h.9v.9h-.9zM143.8 273.0h.9v.9h-.9zM128.5 275.3h.9v.9h-.9zM135.4 271.1h.9v.9h-.9zM134.0 271.9h.9v.9h-.9zM133.3 283.7h.9v.9h-.9zM151.5 279.2h.9v.9h-.9zM145.4 277.9h.9v.9h-.9zM142.1 274.9h.9v.9h-.9zM148.6 277.9h.9v.9h-.9zM143.7 270.0h.9v.9h-.9zM142.9 269.5h.9v.9h-.9zM141.6 273.6h.9v.9h-.9zM137.9 254.5h.9v.9h-.9zM144.2 257.4h.9v.9h-.9zM142.8 258.7h.9v.9h-.9zM142.2 257.9h.9v.9h-.9zM140.2 259.7h.9v.9h-.9zM135.8 258.0h.9v.9h-.9zM139.7 256.2h.9v.9h-.9zM141.1 255.9h.9v.9h-.9zM140.3 256.1h.9v.9h-.9zM139.4 250.9h.9v.9h-.9z" fill="#000" fill-opacity="0.4"/>
<path d="M144.4 270.2h.9v.9h-.9zM142.3 277.1h.9v.9h-.9zM137.7 266.6h.9v.9h-.9zM144.1 274.0h.9v.9h-.9zM138.8 272.1h.9v.9h-.9zM136.7 276.7h.9v.9h-.9zM144.6 275.3h.9v.9h-.9zM134.4 272.4h.9v.9h-.9zM139.9 276.9h.9v.9h-.9zM132.7 273.0h.9v.9h-.9zM135.9 279.2h.9v.9h-.9zM134.1 261.1h.9v.9h-.9zM136.1 266.2h.9v.9h-.9zM133.3 268.7h.9v.9h-.9zM142.5 266.9h.9v.9h-.9zM141.6 275.6h.9v.9h-.9zM139.1 280.3h.9v.9h-.9zM131.3 277.9h.9v.9h-.9zM136.4 273.9h.9v.9h-.9zM139.3 281.4h.9v.9h-.9zM143.2 273.4h.9v.9h-.9zM138.1 271.9h.9v.9h-.9zM147.0 271.1h.9v.9h-.9zM144.0 274.0h.9v.9h-.9zM142.4 277.8h.9v.9h-.9zM141.6 277.7h.9v.9h-.9zM141.7 273.4h.9v.9h-.9zM143.2 267.3h.9v.9h-.9zM147.1 272.7h.9v.9h-.9zM131.9 272.3h.9v.9h-.9zM142.3 282.4h.9v.9h-.9zM133.8 278.2h.9v.9h-.9zM147.6 274.2h.9v.9h-.9zM136.1 277.9h.9v.9h-.9zM141.5 270.0h.9v.9h-.9zM134.8 278.7h.9v.9h-.9zM142.4 276.2h.9v.9h-.9zM133.7 273.6h.9v.9h-.9zM138.2 268.6h.9v.9h-.9zM138.4 283.6h.9v.9h-.9zM141.5 254.6h.9v.9h-.9zM140.8 257.2h.9v.9h-.9zM141.9 261.6h.9v.9h-.9zM144.8 259.7h.9v.9h-.9zM138.5 261.2h.9v.9h-.9zM141.2 254.9h.9v.9h-.9zM141.4 257.7h.9v.9h-.9zM140.8 259.2h.9v.9h-.9zM145.4 261.2h.9v.9h-.9zM142.8 255.4h.9v.9h-.9zM140.7 258.6h.9v.9h-.9zM139.9 261.7h.9v.9h-.9zM137.9 259.2h.9v.9h-.9zM145.5 263.5h.9v.9h-.9zM143.5 256.6h.9v.9h-.9zM140.0 262.1h.9v.9h-.9zM155.1 276.5h.9v.9h-.9zM167.6 270.0h.9v.9h-.9zM166.1 275.6h.9v.9h-.9zM160.3 273.6h.9v.9h-.9zM168.0 272.3h.9v.9h-.9zM164.4 282.8h.9v.9h-.9zM152.8 272.6h.9v.9h-.9zM174.1 277.2h.9v.9h-.9zM173.9 274.4h.9v.9h-.9zM169.9 278.9h.9v.9h-.9zM168.6 278.7h.9v.9h-.9zM156.5 274.0h.9v.9h-.9zM168.4 278.9h.9v.9h-.9zM165.9 278.2h.9v.9h-.9zM154.7 277.9h.9v.9h-.9zM152.5 275.9h.9v.9h-.9zM158.1 273.2h.9v.9h-.9zM155.7 271.9h.9v.9h-.9zM148.5 280.9h.9v.9h-.9zM158.0 275.7h.9v.9h-.9zM150.4 278.1h.9v.9h-.9zM171.6 269.7h.9v.9h-.9zM160.0 271.9h.9v.9h-.9zM149.4 273.9h.9v.9h-.9zM160.2 275.5h.9v.9h-.9zM151.0 267.2h.9v.9h-.9z" fill="#000" fill-opacity="0.2"/>
<path d="M134.2 266.3h.9v.9h-.9zM133.3 269.4h.9v.9h-.9zM143.5 274.5h.9v.9h-.9zM142.3 276.6h.9v.9h-.9zM139.5 272.4h.9v.9h-.9zM133.6 276.7h.9v.9h-.9zM145.5 275.4h.9v.9h-.9zM144.2 269.7h.9v.9h-.9zM138.2 268.4h.9v.9h-.9zM141.3 272.0h.9v.9h-.9zM143.4 272.7h.9v.9h-.9zM138.3 281.4h.9v.9h-.9zM137.7 273.1h.9v.9h-.9zM141.7 273.1h.9v.9h-.9zM142.9 274.5h.9v.9h-.9zM136.3 271.7h.9v.9h-.9zM137.3 275.9h.9v.9h-.9zM140.0 272.6h.9v.9h-.9zM137.5 268.9h.9v.9h-.9zM133.1 265.4h.9v.9h-.9zM145.5 272.4h.9v.9h-.9zM140.2 273.2h.9v.9h-.9zM139.9 273.3h.9v.9h-.9zM139.3 272.8h.9v.9h-.9zM137.6 277.9h.9v.9h-.9zM135.2 270.4h.9v.9h-.9zM140.1 275.7h.9v.9h-.9zM148.3 276.3h.9v.9h-.9zM137.8 270.9h.9v.9h-.9zM134.2 271.4h.9v.9h-.9zM149.1 273.0h.9v.9h-.9zM141.0 276.5h.9v.9h-.9zM139.9 274.2h.9v.9h-.9zM133.6 277.2h.9v.9h-.9zM147.6 271.7h.9v.9h-.9zM137.4 276.4h.9v.9h-.9zM137.7 253.8h.9v.9h-.9zM140.8 259.0h.9v.9h-.9zM141.0 258.2h.9v.9h-.9zM142.9 254.1h.9v.9h-.9zM142.4 252.9h.9v.9h-.9zM144.2 258.2h.9v.9h-.9zM144.3 256.3h.9v.9h-.9zM135.8 256.5h.9v.9h-.9zM137.4 252.6h.9v.9h-.9zM155.9 269.3h.9v.9h-.9zM171.7 275.6h.9v.9h-.9zM172.0 273.3h.9v.9h-.9zM172.4 272.4h.9v.9h-.9zM171.2 272.4h.9v.9h-.9zM172.0 269.9h.9v.9h-.9zM156.8 270.7h.9v.9h-.9zM156.4 274.8h.9v.9h-.9zM166.5 270.8h.9v.9h-.9zM159.5 271.8h.9v.9h-.9zM169.7 272.5h.9v.9h-.9zM156.8 273.6h.9v.9h-.9zM156.4 277.1h.9v.9h-.9zM164.1 280.5h.9v.9h-.9zM152.3 273.7h.9v.9h-.9z" fill="#000" fill-opacity="0.3"/>
<path d="M146.6 269.9h.9v.9h-.9zM132.7 279.0h.9v.9h-.9zM144.2 277.0h.9v.9h-.9zM140.2 264.0h.9v.9h-.9zM131.4 267.9h.9v.9h-.9zM141.7 278.4h.9v.9h-.9zM134.7 276.1h.9v.9h-.9zM144.0 275.6h.9v.9h-.9zM141.6 278.9h.9v.9h-.9zM131.5 273.9h.9v.9h-.9zM133.1 265.2h.9v.9h-.9zM144.6 273.2h.9v.9h-.9zM136.1 277.2h.9v.9h-.9zM135.3 281.2h.9v.9h-.9zM144.7 271.7h.9v.9h-.9zM129.8 281.6h.9v.9h-.9zM134.1 267.0h.9v.9h-.9zM137.4 268.6h.9v.9h-.9zM144.6 275.9h.9v.9h-.9zM145.9 277.0h.9v.9h-.9zM143.1 258.8h.9v.9h-.9zM140.1 261.9h.9v.9h-.9zM143.0 259.9h.9v.9h-.9zM142.2 261.8h.9v.9h-.9zM143.5 257.3h.9v.9h-.9zM142.6 257.3h.9v.9h-.9zM139.0 257.2h.9v.9h-.9zM136.0 260.8h.9v.9h-.9zM141.9 263.4h.9v.9h-.9zM150.4 275.4h.9v.9h-.9zM157.8 269.6h.9v.9h-.9zM150.3 276.7h.9v.9h-.9zM166.2 274.7h.9v.9h-.9zM159.0 271.3h.9v.9h-.9zM151.1 271.1h.9v.9h-.9zM149.3 273.7h.9v.9h-.9zM149.8 276.0h.9v.9h-.9zM154.0 276.7h.9v.9h-.9zM154.9 284.7h.9v.9h-.9zM149.9 276.2h.9v.9h-.9zM160.6 277.4h.9v.9h-.9zM169.7 275.1h.9v.9h-.9zM163.5 277.4h.9v.9h-.9zM139.4 244.0h.9v.9h-.9zM153.2 249.7h.9v.9h-.9zM145.7 247.3h.9v.9h-.9zM163.9 276.4h.9v.9h-.9zM172.3 282.6h.9v.9h-.9zM134.3 261.4h.9v.9h-.9zM144.4 248.2h.9v.9h-.9zM173.1 260.9h.9v.9h-.9zM162.2 272.0h.9v.9h-.9zM164.2 252.4h.9v.9h-.9zM151.2 272.3h.9v.9h-.9zM169.9 243.8h.9v.9h-.9zM145.9 246.4h.9v.9h-.9zM142.5 238.6h.9v.9h-.9zM153.4 244.8h.9v.9h-.9zM147.1 263.4h.9v.9h-.9zM151.2 243.2h.9v.9h-.9zM135.2 279.1h.9v.9h-.9zM131.4 259.0h.9v.9h-.9zM164.2 239.2h.9v.9h-.9zM142.6 243.2h.9v.9h-.9zM169.3 280.7h.9v.9h-.9zM128.6 267.6h.9v.9h-.9zM152.8 266.8h.9v.9h-.9zM154.3 249.9h.9v.9h-.9z" fill="#000" fill-opacity="0.1"/>
<rect x="127.50" y="237.50" width="49.00" height="49.00" fill="none" stroke="#747474" stroke-width="1"/>
<line x1="147.50" y1="237.20" x2="147.50" y2="286.30" stroke="#666" stroke-width="1"/>
<line x1="127.10" y1="265.50" x2="176.20" y2="265.50" stroke="#666" stroke-width="1"/>
<text transform="translate(129.49,243.95) scale(0.96,1)" font-size="6.69" fill="#1a1a1a">9.9</text>
<text transform="translate(165.84,243.95) scale(0.96,1)" font-size="6.69" fill="#1a1a1a">0.3</text>
<text transform="translate(129.53,285.45) scale(0.96,1)" font-size="6.69" fill="#1a1a1a">83.2</text>
<text transform="translate(166.64,285.45) scale(0.96,1)" font-size="6.69" fill="#1a1a1a">6.6</text>
<text transform="translate(142.05,296.00) scale(0.966,1)" font-size="6.69" fill="#1a1a1a">40 μg / mL</text>
<text transform="translate(141.71,304.30) scale(1.013,1)" font-size="6.69" fill="#1a1a1a">anti-TNFα</text>
<line x1="18.70" y1="310.60" x2="18.70" y2="356.40" stroke="#7a7a7a" stroke-width="1.3"/>
<line x1="18.05" y1="356.40" x2="66.20" y2="356.40" stroke="#7a7a7a" stroke-width="1.3"/>
<rect x="17.90" y="309.50" width="1.70" height="1.80" fill="#000"/>
<rect x="65.10" y="355.50" width="1.80" height="1.80" fill="#000"/>
<text transform="translate(12.60,355.56) rotate(-90) scale(1.014,1)" font-size="6.69" fill="#1a1a1a">Foxp3</text>
<text transform="translate(21.16,366.10) scale(1.028,1)" font-size="6.69" fill="#1a1a1a">IL17</text>
<rect x="216.10" y="33.60" width="7.00" height="65.70" fill="#000"/>
<rect x="224.00" y="64.10" width="7.00" height="35.20" fill="#000"/>
<rect x="232.65" y="61.55" width="7.10" height="37.75" fill="#c6c6c6" stroke="#8c8c8c" stroke-width="0.9"/>
<rect x="238.60" y="62.10" width="1.10" height="37.20" fill="#a8a8a8"/>
<rect x="241.25" y="86.85" width="6.10" height="12.45" fill="#fff" stroke="#4a4a4a" stroke-width="0.9"/>
<rect x="257.90" y="37.60" width="7.00" height="61.70" fill="#000"/>
<rect x="266.10" y="60.90" width="7.00" height="38.40" fill="#000"/>
<rect x="274.85" y="75.75" width="7.10" height="23.55" fill="#c6c6c6" stroke="#8c8c8c" stroke-width="0.9"/>
<rect x="280.80" y="76.30" width="1.10" height="23.00" fill="#a8a8a8"/>
<rect x="283.15" y="89.15" width="6.10" height="10.15" fill="#fff" stroke="#4a4a4a" stroke-width="0.9"/>
<rect x="299.90" y="67.00" width="7.00" height="32.30" fill="#000"/>
<rect x="308.10" y="80.10" width="7.00" height="19.20" fill="#000"/>
<rect x="316.65" y="72.55" width="7.10" height="26.75" fill="#c6c6c6" stroke="#8c8c8c" stroke-width="0.9"/>
<rect x="322.60" y="73.10" width="1.10" height="26.20" fill="#a8a8a8"/>
<rect x="324.95" y="93.75" width="6.10" height="5.55" fill="#fff" stroke="#4a4a4a" stroke-width="0.9"/>
<line x1="211.50" y1="22.80" x2="211.50" y2="99.80" stroke="#2a2a2a" stroke-width="1"/>
<line x1="211.00" y1="99.50" x2="337.30" y2="99.50" stroke="#2a2a2a" stroke-width="1"/>
<line x1="209.90" y1="99.50" x2="211.50" y2="99.50" stroke="#2a2a2a" stroke-width="0.8"/>
<text transform="translate(204.64,99.70) scale(0.950,1)" font-size="6.84" fill="#1a1a1a">0</text>
<line x1="209.90" y1="77.50" x2="211.50" y2="77.50" stroke="#2a2a2a" stroke-width="0.8"/>
<text transform="translate(204.76,78.20) scale(0.898,1)" font-size="6.84" fill="#1a1a1a">4</text>
<line x1="209.90" y1="56.50" x2="211.50" y2="56.50" stroke="#2a2a2a" stroke-width="0.8"/>
<text transform="translate(204.70,56.70) scale(1.027,1)" font-size="6.84" fill="#1a1a1a">8</text>
<line x1="209.90" y1="34.50" x2="211.50" y2="34.50" stroke="#2a2a2a" stroke-width="0.8"/>
<text transform="translate(201.84,35.30) scale(0.891,1)" font-size="6.84" fill="#1a1a1a">12</text>
<line x1="221.80" y1="27.50" x2="247.80" y2="27.50" stroke="#8f8f8f" stroke-width="1"/>
<line x1="303.80" y1="62.50" x2="330.80" y2="62.50" stroke="#8f8f8f" stroke-width="1"/>
<line x1="235.50" y1="27.80" x2="235.50" y2="19.30" stroke="#8f8f8f" stroke-width="1"/>
<line x1="317.50" y1="62.60" x2="317.50" y2="19.30" stroke="#8f8f8f" stroke-width="1"/>
<line x1="234.80" y1="19.50" x2="318.30" y2="19.50" stroke="#8f8f8f" stroke-width="1"/>
<circle cx="272.7" cy="15.9" r="0.8" fill="#444"/>
<text transform="translate(328.62,23.30) scale(1.065,1)" font-size="6.55" fill="#1a1a1a">Donor</text>
<rect x="328.30" y="26.50" width="4.80" height="4.80" fill="#000"/>
<text transform="translate(338.98,31.00) scale(0.62,1)" font-size="6.84" fill="#1a1a1a">#</text>
<text transform="translate(341.81,31.00) scale(0.8,1)" font-size="6.84" fill="#1a1a1a">I</text>
<rect x="328.30" y="34.30" width="4.80" height="4.80" fill="#000"/>
<text transform="translate(338.98,38.80) scale(0.62,1)" font-size="6.84" fill="#1a1a1a">#</text>
<text transform="translate(341.81,38.80) scale(0.8,1)" font-size="6.84" fill="#1a1a1a">II</text>
<rect x="328.75" y="42.55" width="3.90" height="3.90" fill="#c6c6c6" stroke="#7a7a7a" stroke-width="0.9"/>
<text transform="translate(338.98,46.60) scale(0.62,1)" font-size="6.84" fill="#1a1a1a">#</text>
<text transform="translate(341.81,46.60) scale(0.8,1)" font-size="6.84" fill="#1a1a1a">III</text>
<rect x="328.75" y="50.25" width="3.90" height="3.90" fill="#fff" stroke="#666" stroke-width="0.9"/>
<text transform="translate(338.98,54.30) scale(0.62,1)" font-size="6.84" fill="#1a1a1a">#</text>
<text transform="translate(341.81,54.30) scale(0.8,1)" font-size="6.84" fill="#1a1a1a">IV</text>
<text transform="translate(199.60,80.03) rotate(-90) scale(0.976,1)" font-size="6.69" fill="#1a1a1a">% IL17<tspan font-size="4.15" dy="-2.54">+</tspan><tspan dy="2.54"> cells</tspan></text>
<text transform="translate(218.48,110.60) scale(0.931,1)" font-size="6.84" fill="#1a1a1a">CTRL-IgG</text>
<text transform="translate(260.31,109.10) scale(0.950,1)" font-size="6.84" fill="#1a1a1a">1 μg / mL</text>
<text transform="translate(259.62,118.00) scale(0.960,1)" font-size="6.84" fill="#1a1a1a">anti-TGF-β</text>
<text transform="translate(301.76,109.30) scale(0.987,1)" font-size="6.84" fill="#1a1a1a">6 μg / mL</text>
<text transform="translate(301.82,117.30) scale(0.957,1)" font-size="6.84" fill="#1a1a1a">anti-TGF-β</text>
<rect x="385.50" y="29.70" width="5.90" height="70.10" fill="#000"/>
<rect x="393.00" y="65.20" width="5.90" height="34.60" fill="#000"/>
<rect x="400.55" y="65.35" width="6.00" height="34.45" fill="#c6c6c6" stroke="#8c8c8c" stroke-width="0.9"/>
<rect x="405.40" y="65.90" width="1.10" height="33.90" fill="#a8a8a8"/>
<rect x="407.65" y="72.85" width="5.00" height="26.95" fill="#fff" stroke="#4a4a4a" stroke-width="0.9"/>
<rect x="427.30" y="31.10" width="5.90" height="68.70" fill="#000"/>
<rect x="434.70" y="65.90" width="5.90" height="33.90" fill="#000"/>
<rect x="442.35" y="66.35" width="6.00" height="33.45" fill="#c6c6c6" stroke="#8c8c8c" stroke-width="0.9"/>
<rect x="447.20" y="66.90" width="1.10" height="32.90" fill="#a8a8a8"/>
<rect x="449.55" y="82.45" width="5.00" height="17.35" fill="#fff" stroke="#4a4a4a" stroke-width="0.9"/>
<rect x="469.80" y="46.40" width="5.90" height="53.40" fill="#000"/>
<rect x="476.90" y="80.10" width="5.90" height="19.70" fill="#000"/>
<rect x="484.55" y="75.45" width="6.00" height="24.35" fill="#c6c6c6" stroke="#8c8c8c" stroke-width="0.9"/>
<rect x="489.40" y="76.00" width="1.10" height="23.80" fill="#a8a8a8"/>
<rect x="491.55" y="85.95" width="5.00" height="13.85" fill="#fff" stroke="#4a4a4a" stroke-width="0.9"/>
<line x1="381.50" y1="25.00" x2="381.50" y2="100.30" stroke="#2a2a2a" stroke-width="1"/>
<line x1="381.10" y1="99.50" x2="507.50" y2="99.50" stroke="#2a2a2a" stroke-width="1"/>
<line x1="380.00" y1="99.50" x2="381.60" y2="99.50" stroke="#2a2a2a" stroke-width="0.8"/>
<text transform="translate(374.72,100.30) scale(1.011,1)" font-size="6.84" fill="#1a1a1a">0</text>
<line x1="380.00" y1="75.50" x2="381.60" y2="75.50" stroke="#2a2a2a" stroke-width="0.8"/>
<text transform="translate(374.85,75.60) scale(0.956,1)" font-size="6.84" fill="#1a1a1a">4</text>
<line x1="380.00" y1="50.50" x2="381.60" y2="50.50" stroke="#2a2a2a" stroke-width="0.8"/>
<text transform="translate(374.57,50.90) scale(1.120,1)" font-size="6.84" fill="#1a1a1a">8</text>
<line x1="380.00" y1="25.50" x2="381.60" y2="25.50" stroke="#2a2a2a" stroke-width="0.8"/>
<text transform="translate(372.21,26.10) scale(0.965,1)" font-size="6.84" fill="#1a1a1a">12</text>
<line x1="388.50" y1="24.50" x2="414.80" y2="24.50" stroke="#8f8f8f" stroke-width="1"/>
<line x1="472.20" y1="42.50" x2="499.20" y2="42.50" stroke="#8f8f8f" stroke-width="1"/>
<line x1="401.50" y1="24.90" x2="401.50" y2="16.20" stroke="#8f8f8f" stroke-width="1"/>
<line x1="486.50" y1="42.70" x2="486.50" y2="16.20" stroke="#8f8f8f" stroke-width="1"/>
<line x1="401.00" y1="16.50" x2="487.30" y2="16.50" stroke="#8f8f8f" stroke-width="1"/>
<circle cx="441.6" cy="12.5" r="0.8" fill="#444"/>
<text transform="translate(492.82,6.80) scale(1.077,1)" font-size="6.55" fill="#1a1a1a">Donor</text>
<rect x="492.20" y="10.40" width="5.60" height="5.20" fill="#000"/>
<text transform="translate(503.18,15.30) scale(0.62,1)" font-size="6.84" fill="#1a1a1a">#</text>
<text transform="translate(506.01,15.30) scale(0.8,1)" font-size="6.84" fill="#1a1a1a">I</text>
<rect x="492.20" y="18.40" width="5.60" height="5.20" fill="#000"/>
<text transform="translate(503.18,23.30) scale(0.62,1)" font-size="6.84" fill="#1a1a1a">#</text>
<text transform="translate(506.01,23.30) scale(0.8,1)" font-size="6.84" fill="#1a1a1a">II</text>
<rect x="492.65" y="26.85" width="4.70" height="4.30" fill="#c6c6c6" stroke="#7a7a7a" stroke-width="0.9"/>
<text transform="translate(503.18,31.30) scale(0.62,1)" font-size="6.84" fill="#1a1a1a">#</text>
<text transform="translate(506.01,31.30) scale(0.8,1)" font-size="6.84" fill="#1a1a1a">III</text>
<rect x="492.65" y="34.75" width="4.70" height="4.30" fill="#fff" stroke="#666" stroke-width="0.9"/>
<text transform="translate(503.18,39.20) scale(0.62,1)" font-size="6.84" fill="#1a1a1a">#</text>
<text transform="translate(506.01,39.20) scale(0.8,1)" font-size="6.84" fill="#1a1a1a">IV</text>
<text transform="translate(369.20,78.12) rotate(-90) scale(0.955,1)" font-size="6.69" fill="#1a1a1a">% IL17<tspan font-size="4.15" dy="-2.54">+</tspan><tspan dy="2.54"> cells</tspan></text>
<text transform="translate(388.49,109.10) scale(0.915,1)" font-size="6.84" fill="#1a1a1a">CTRL-IgG</text>
<text transform="translate(430.08,107.10) scale(0.941,1)" font-size="6.84" fill="#1a1a1a">20 μg / mL</text>
<text transform="translate(430.13,116.00) scale(0.936,1)" font-size="6.84" fill="#1a1a1a">anti-IL6Rα</text>
<text transform="translate(471.35,107.20) scale(0.986,1)" font-size="6.84" fill="#1a1a1a">40 μg / mL</text>
<text transform="translate(471.22,115.40) scale(0.961,1)" font-size="6.84" fill="#1a1a1a">anti-IL6Rα</text>
<rect x="216.10" y="152.80" width="7.00" height="63.70" fill="#000"/>
<rect x="224.85" y="194.85" width="6.10" height="21.65" fill="#7e7e7e" stroke="#555" stroke-width="0.9"/>
<rect x="233.05" y="191.65" width="6.10" height="24.85" fill="#fff" stroke="#4a4a4a" stroke-width="0.9"/>
<rect x="258.10" y="159.90" width="7.00" height="56.60" fill="#000"/>
<rect x="266.75" y="197.65" width="6.10" height="18.85" fill="#7e7e7e" stroke="#555" stroke-width="0.9"/>
<rect x="274.85" y="184.75" width="6.10" height="31.75" fill="#fff" stroke="#4a4a4a" stroke-width="0.9"/>
<rect x="300.00" y="154.00" width="7.00" height="62.50" fill="#000"/>
<rect x="308.75" y="185.25" width="6.10" height="31.25" fill="#7e7e7e" stroke="#555" stroke-width="0.9"/>
<rect x="317.05" y="185.25" width="6.10" height="31.25" fill="#fff" stroke="#4a4a4a" stroke-width="0.9"/>
<line x1="211.50" y1="141.50" x2="211.50" y2="217.00" stroke="#2a2a2a" stroke-width="1"/>
<line x1="210.90" y1="216.50" x2="337.30" y2="216.50" stroke="#2a2a2a" stroke-width="1"/>
<line x1="209.80" y1="216.50" x2="211.40" y2="216.50" stroke="#2a2a2a" stroke-width="0.8"/>
<text transform="translate(204.72,217.10) scale(1.011,1)" font-size="6.84" fill="#1a1a1a">0</text>
<line x1="209.80" y1="197.50" x2="211.40" y2="197.50" stroke="#2a2a2a" stroke-width="0.8"/>
<text transform="translate(206.46,198.40) scale(0.927,1)" font-size="6.84" fill="#1a1a1a">4</text>
<line x1="209.80" y1="179.50" x2="211.40" y2="179.50" stroke="#2a2a2a" stroke-width="0.8"/>
<text transform="translate(206.00,179.70) scale(1.027,1)" font-size="6.84" fill="#1a1a1a">8</text>
<line x1="209.80" y1="160.50" x2="211.40" y2="160.50" stroke="#2a2a2a" stroke-width="0.8"/>
<text transform="translate(201.65,161.00) scale(1.069,1)" font-size="6.84" fill="#1a1a1a">12</text>
<line x1="209.80" y1="141.50" x2="211.40" y2="141.50" stroke="#2a2a2a" stroke-width="0.8"/>
<text transform="translate(201.66,142.30) scale(1.061,1)" font-size="6.84" fill="#1a1a1a">16</text>
<line x1="216.20" y1="150.50" x2="238.90" y2="150.50" stroke="#707070" stroke-width="1"/>
<line x1="304.30" y1="150.50" x2="323.20" y2="150.50" stroke="#707070" stroke-width="1"/>
<line x1="227.50" y1="150.40" x2="227.50" y2="141.50" stroke="#707070" stroke-width="1"/>
<line x1="312.50" y1="150.10" x2="312.50" y2="141.50" stroke="#707070" stroke-width="1"/>
<line x1="227.10" y1="141.50" x2="312.90" y2="141.50" stroke="#707070" stroke-width="1"/>
<text transform="translate(266.45,139.20) scale(0.985,1)" font-size="6.84" fill="#1a1a1a">n.s.</text>
<text transform="translate(328.63,157.80) scale(1.048,1)" font-size="6.55" fill="#1a1a1a">Donor</text>
<rect x="328.30" y="160.20" width="5.50" height="5.10" fill="#000"/>
<text transform="translate(339.98,165.00) scale(0.62,1)" font-size="6.84" fill="#1a1a1a">#</text>
<text transform="translate(342.81,165.00) scale(0.8,1)" font-size="6.84" fill="#1a1a1a">I</text>
<rect x="328.75" y="168.25" width="4.60" height="4.20" fill="#7e7e7e" stroke="#555" stroke-width="0.9"/>
<text transform="translate(339.98,172.60) scale(0.62,1)" font-size="6.84" fill="#1a1a1a">#</text>
<text transform="translate(342.81,172.60) scale(0.8,1)" font-size="6.84" fill="#1a1a1a">II</text>
<rect x="328.75" y="175.55" width="4.60" height="4.20" fill="#fff" stroke="#666" stroke-width="0.9"/>
<text transform="translate(339.98,179.90) scale(0.62,1)" font-size="6.84" fill="#1a1a1a">#</text>
<text transform="translate(342.81,179.90) scale(0.8,1)" font-size="6.84" fill="#1a1a1a">III</text>
<text transform="translate(199.60,195.22) rotate(-90) scale(0.957,1)" font-size="6.69" fill="#1a1a1a">% IL17<tspan font-size="4.15" dy="-2.54">+</tspan><tspan dy="2.54"> cells</tspan></text>
<text transform="translate(217.99,225.50) scale(0.915,1)" font-size="6.84" fill="#1a1a1a">CTRL-IgG</text>
<text transform="translate(260.60,224.00) scale(0.869,1)" font-size="6.84" fill="#1a1a1a">20 μg / mL</text>
<text transform="translate(260.65,232.80) scale(0.852,1)" font-size="6.84" fill="#1a1a1a">anti-IL1β</text>
<text transform="translate(303.95,223.60) scale(0.982,1)" font-size="6.84" fill="#1a1a1a">40 μg / mL</text>
<text transform="translate(303.81,231.90) scale(1.005,1)" font-size="6.84" fill="#1a1a1a">anti-IL1β</text>
<rect x="387.70" y="182.70" width="7.30" height="33.60" fill="#000"/>
<rect x="396.65" y="161.05" width="6.40" height="55.25" fill="#7e7e7e" stroke="#555" stroke-width="0.9"/>
<rect x="405.65" y="196.55" width="6.40" height="19.75" fill="#fff" stroke="#4a4a4a" stroke-width="0.9"/>
<rect x="429.80" y="180.50" width="7.30" height="35.80" fill="#000"/>
<rect x="438.65" y="157.65" width="6.40" height="58.65" fill="#7e7e7e" stroke="#555" stroke-width="0.9"/>
<rect x="447.65" y="199.55" width="6.40" height="16.75" fill="#fff" stroke="#4a4a4a" stroke-width="0.9"/>
<rect x="471.10" y="183.90" width="7.30" height="32.40" fill="#000"/>
<rect x="480.65" y="157.85" width="6.40" height="58.45" fill="#7e7e7e" stroke="#555" stroke-width="0.9"/>
<rect x="489.35" y="193.75" width="6.40" height="22.55" fill="#fff" stroke="#4a4a4a" stroke-width="0.9"/>
<line x1="382.50" y1="149.60" x2="382.50" y2="216.80" stroke="#2a2a2a" stroke-width="1"/>
<line x1="381.60" y1="216.50" x2="504.60" y2="216.50" stroke="#2a2a2a" stroke-width="1"/>
<line x1="380.50" y1="216.50" x2="382.10" y2="216.50" stroke="#2a2a2a" stroke-width="0.8"/>
<text transform="translate(375.32,216.80) scale(1.011,1)" font-size="6.84" fill="#1a1a1a">0</text>
<line x1="380.50" y1="197.50" x2="382.10" y2="197.50" stroke="#2a2a2a" stroke-width="0.8"/>
<text transform="translate(375.45,197.70) scale(0.956,1)" font-size="6.84" fill="#1a1a1a">4</text>
<line x1="380.50" y1="177.50" x2="382.10" y2="177.50" stroke="#2a2a2a" stroke-width="0.8"/>
<text transform="translate(375.09,178.30) scale(1.058,1)" font-size="6.84" fill="#1a1a1a">8</text>
<line x1="380.50" y1="158.50" x2="382.10" y2="158.50" stroke="#2a2a2a" stroke-width="0.8"/>
<text transform="translate(373.73,158.90) scale(0.921,1)" font-size="6.84" fill="#1a1a1a">12</text>
<line x1="385.30" y1="154.50" x2="411.00" y2="154.50" stroke="#707070" stroke-width="1"/>
<line x1="468.90" y1="154.50" x2="495.50" y2="154.50" stroke="#707070" stroke-width="1"/>
<line x1="398.50" y1="154.00" x2="398.50" y2="145.00" stroke="#707070" stroke-width="1"/>
<line x1="482.50" y1="154.20" x2="482.50" y2="145.00" stroke="#707070" stroke-width="1"/>
<line x1="398.20" y1="145.50" x2="483.10" y2="145.50" stroke="#707070" stroke-width="1"/>
<text transform="translate(438.51,142.20) scale(0.844,1)" font-size="6.84" fill="#1a1a1a">n.s.</text>
<text transform="translate(498.82,158.80) scale(1.071,1)" font-size="6.55" fill="#1a1a1a">Donor</text>
<rect x="499.00" y="161.90" width="5.40" height="5.20" fill="#000"/>
<text transform="translate(510.48,166.80) scale(0.62,1)" font-size="6.84" fill="#1a1a1a">#</text>
<text transform="translate(513.31,166.80) scale(0.8,1)" font-size="6.84" fill="#1a1a1a">I</text>
<rect x="499.45" y="169.65" width="4.50" height="4.30" fill="#7e7e7e" stroke="#555" stroke-width="0.9"/>
<text transform="translate(510.48,174.10) scale(0.62,1)" font-size="6.84" fill="#1a1a1a">#</text>
<text transform="translate(513.31,174.10) scale(0.8,1)" font-size="6.84" fill="#1a1a1a">II</text>
<rect x="499.45" y="177.15" width="4.50" height="4.30" fill="#fff" stroke="#666" stroke-width="0.9"/>
<text transform="translate(510.48,181.60) scale(0.62,1)" font-size="6.84" fill="#1a1a1a">#</text>
<text transform="translate(513.31,181.60) scale(0.8,1)" font-size="6.84" fill="#1a1a1a">III</text>
<text transform="translate(369.20,198.73) rotate(-90) scale(0.963,1)" font-size="6.69" fill="#1a1a1a">% IL17<tspan font-size="4.15" dy="-2.54">+</tspan><tspan dy="2.54"> cells</tspan></text>
<text transform="translate(387.50,226.60) scale(0.892,1)" font-size="6.84" fill="#1a1a1a">CTRL-IgG</text>
<text transform="translate(430.59,225.10) scale(0.919,1)" font-size="6.84" fill="#1a1a1a">20 μg / mL</text>
<text transform="translate(430.64,233.80) scale(0.895,1)" font-size="6.84" fill="#1a1a1a">anti-TNFα</text>
<text transform="translate(473.65,225.60) scale(0.992,1)" font-size="6.84" fill="#1a1a1a">40 μg / mL</text>
<text transform="translate(473.51,233.60) scale(0.998,1)" font-size="6.84" fill="#1a1a1a">anti-TNFα</text>
</svg>
</body></html>
